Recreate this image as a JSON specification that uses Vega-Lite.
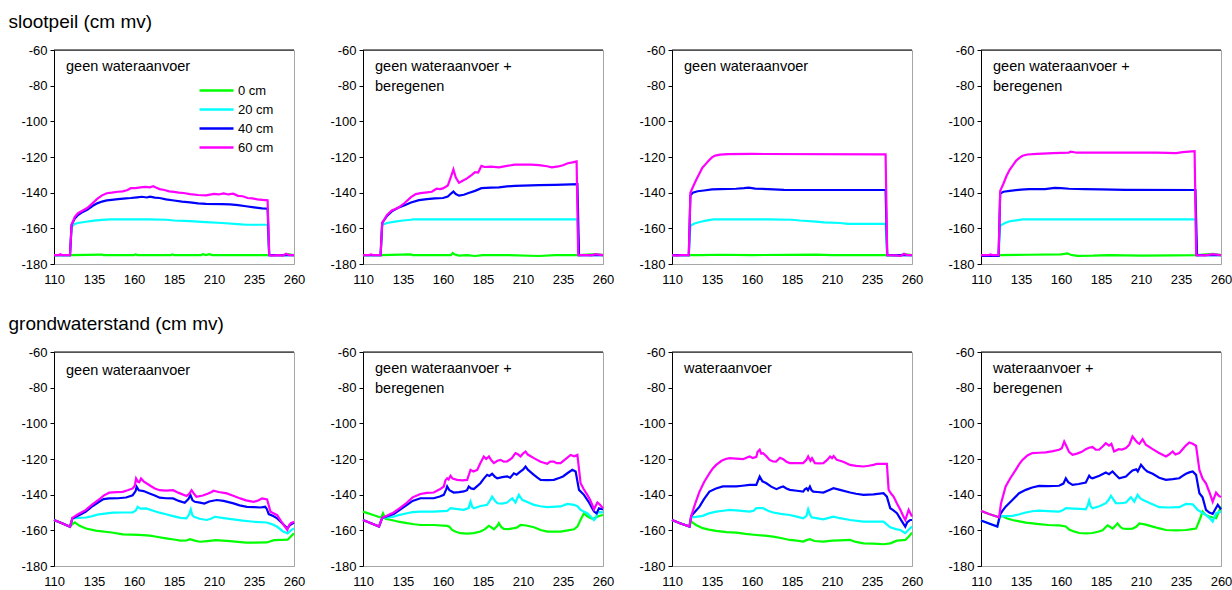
{
"$schema":"https://vega.github.io/schema/vega-lite/v6.json",
"padding":{"left":8,"top":12,"right":0,"bottom":4},
"background":"white",
"config":{
 "font":"Liberation Sans",
 "view":{"stroke":"#a6a6a6","strokeWidth":1},
 "axis":{"grid":false,"title":null,"labelFont":"Liberation Sans","labelFontSize":13,"labelColor":"#000","labelOverlap":false,"tickCount":20,"labelExpr":"'' + datum.value"},
 "axisX":{"ticks":false,"domainColor":"#a6a6a6","labelPadding":9,"labelFlush":false},
 "axisY":{"domainColor":"#000","tickColor":"#000","tickSize":4,"labelPadding":3},
 "title":{"font":"Liberation Sans","fontSize":19,"fontWeight":"normal","color":"#000","anchor":"start","dx":-12,"offset":12},
 "legend":{"labelFont":"Liberation Sans"}
},
"datasets":{
"teksten":[
{"pnl":1,"tekst":"geen wateraanvoer"},
{"pnl":2,"tekst":"geen wateraanvoer +\nberegenen"},
{"pnl":3,"tekst":"geen wateraanvoer"},
{"pnl":4,"tekst":"geen wateraanvoer +\nberegenen"},
{"pnl":5,"tekst":"geen wateraanvoer"},
{"pnl":6,"tekst":"geen wateraanvoer +\nberegenen"},
{"pnl":7,"tekst":"wateraanvoer"},
{"pnl":8,"tekst":"wateraanvoer +\nberegenen"}
],
"reeksen":[
{"pnl":1,"reeks":"0 cm","dag":110,"cm":-175},{"pnl":1,"reeks":"0 cm","dag":121,"cm":-175},{"pnl":1,"reeks":"0 cm","dag":140,"cm":-174.7},{"pnl":1,"reeks":"0 cm","dag":141,"cm":-175},{"pnl":1,"reeks":"0 cm","dag":160,"cm":-175},{"pnl":1,"reeks":"0 cm","dag":161,"cm":-174.6},{"pnl":1,"reeks":"0 cm","dag":162,"cm":-175},{"pnl":1,"reeks":"0 cm","dag":183,"cm":-175},{"pnl":1,"reeks":"0 cm","dag":184,"cm":-174.6},{"pnl":1,"reeks":"0 cm","dag":185,"cm":-175},{"pnl":1,"reeks":"0 cm","dag":202,"cm":-175},{"pnl":1,"reeks":"0 cm","dag":203,"cm":-174.5},{"pnl":1,"reeks":"0 cm","dag":205,"cm":-175},{"pnl":1,"reeks":"0 cm","dag":207,"cm":-174.5},{"pnl":1,"reeks":"0 cm","dag":209,"cm":-175},{"pnl":1,"reeks":"0 cm","dag":245,"cm":-175},{"pnl":1,"reeks":"0 cm","dag":255,"cm":-175},{"pnl":1,"reeks":"0 cm","dag":256,"cm":-174.5},{"pnl":1,"reeks":"0 cm","dag":260,"cm":-175},
{"pnl":1,"reeks":"20 cm","dag":110,"cm":-175},{"pnl":1,"reeks":"20 cm","dag":120,"cm":-175},{"pnl":1,"reeks":"20 cm","dag":121,"cm":-159},{"pnl":1,"reeks":"20 cm","dag":123,"cm":-157.5},{"pnl":1,"reeks":"20 cm","dag":125,"cm":-157},{"pnl":1,"reeks":"20 cm","dag":130,"cm":-156.3},{"pnl":1,"reeks":"20 cm","dag":135,"cm":-155.7},{"pnl":1,"reeks":"20 cm","dag":140,"cm":-155.3},{"pnl":1,"reeks":"20 cm","dag":145,"cm":-155},{"pnl":1,"reeks":"20 cm","dag":170,"cm":-155},{"pnl":1,"reeks":"20 cm","dag":180,"cm":-155.2},{"pnl":1,"reeks":"20 cm","dag":185,"cm":-155.6},{"pnl":1,"reeks":"20 cm","dag":195,"cm":-156},{"pnl":1,"reeks":"20 cm","dag":205,"cm":-156.5},{"pnl":1,"reeks":"20 cm","dag":215,"cm":-157},{"pnl":1,"reeks":"20 cm","dag":225,"cm":-157.6},{"pnl":1,"reeks":"20 cm","dag":230,"cm":-158},{"pnl":1,"reeks":"20 cm","dag":243.5,"cm":-158},{"pnl":1,"reeks":"20 cm","dag":244.5,"cm":-175},{"pnl":1,"reeks":"20 cm","dag":260,"cm":-175},
{"pnl":1,"reeks":"40 cm","dag":110,"cm":-175},{"pnl":1,"reeks":"40 cm","dag":120,"cm":-175},{"pnl":1,"reeks":"40 cm","dag":121,"cm":-158},{"pnl":1,"reeks":"40 cm","dag":123,"cm":-154.5},{"pnl":1,"reeks":"40 cm","dag":125,"cm":-152.5},{"pnl":1,"reeks":"40 cm","dag":128,"cm":-150.8},{"pnl":1,"reeks":"40 cm","dag":131,"cm":-149.5},{"pnl":1,"reeks":"40 cm","dag":134,"cm":-147.5},{"pnl":1,"reeks":"40 cm","dag":137,"cm":-146},{"pnl":1,"reeks":"40 cm","dag":140,"cm":-145},{"pnl":1,"reeks":"40 cm","dag":143,"cm":-144.3},{"pnl":1,"reeks":"40 cm","dag":146,"cm":-144},{"pnl":1,"reeks":"40 cm","dag":150,"cm":-143.6},{"pnl":1,"reeks":"40 cm","dag":155,"cm":-143.2},{"pnl":1,"reeks":"40 cm","dag":158,"cm":-143},{"pnl":1,"reeks":"40 cm","dag":162,"cm":-142.6},{"pnl":1,"reeks":"40 cm","dag":165,"cm":-142.3},{"pnl":1,"reeks":"40 cm","dag":168,"cm":-142.7},{"pnl":1,"reeks":"40 cm","dag":170,"cm":-142.2},{"pnl":1,"reeks":"40 cm","dag":173,"cm":-142.8},{"pnl":1,"reeks":"40 cm","dag":176,"cm":-143},{"pnl":1,"reeks":"40 cm","dag":180,"cm":-143.8},{"pnl":1,"reeks":"40 cm","dag":185,"cm":-144.4},{"pnl":1,"reeks":"40 cm","dag":190,"cm":-145},{"pnl":1,"reeks":"40 cm","dag":195,"cm":-145.4},{"pnl":1,"reeks":"40 cm","dag":200,"cm":-146},{"pnl":1,"reeks":"40 cm","dag":205,"cm":-146.3},{"pnl":1,"reeks":"40 cm","dag":215,"cm":-146.4},{"pnl":1,"reeks":"40 cm","dag":220,"cm":-146.6},{"pnl":1,"reeks":"40 cm","dag":225,"cm":-147},{"pnl":1,"reeks":"40 cm","dag":230,"cm":-147.6},{"pnl":1,"reeks":"40 cm","dag":235,"cm":-148.2},{"pnl":1,"reeks":"40 cm","dag":240,"cm":-148.8},{"pnl":1,"reeks":"40 cm","dag":243.5,"cm":-149},{"pnl":1,"reeks":"40 cm","dag":244.5,"cm":-175},{"pnl":1,"reeks":"40 cm","dag":260,"cm":-175},
{"pnl":1,"reeks":"60 cm","dag":110,"cm":-175},{"pnl":1,"reeks":"60 cm","dag":113,"cm":-175},{"pnl":1,"reeks":"60 cm","dag":114,"cm":-174.5},{"pnl":1,"reeks":"60 cm","dag":115,"cm":-175},{"pnl":1,"reeks":"60 cm","dag":120,"cm":-175},{"pnl":1,"reeks":"60 cm","dag":121,"cm":-158},{"pnl":1,"reeks":"60 cm","dag":123,"cm":-153.5},{"pnl":1,"reeks":"60 cm","dag":125,"cm":-151.5},{"pnl":1,"reeks":"60 cm","dag":128,"cm":-150},{"pnl":1,"reeks":"60 cm","dag":131,"cm":-148.5},{"pnl":1,"reeks":"60 cm","dag":134,"cm":-146},{"pnl":1,"reeks":"60 cm","dag":137,"cm":-143.5},{"pnl":1,"reeks":"60 cm","dag":140,"cm":-141.5},{"pnl":1,"reeks":"60 cm","dag":143,"cm":-140.3},{"pnl":1,"reeks":"60 cm","dag":146,"cm":-140},{"pnl":1,"reeks":"60 cm","dag":150,"cm":-139.5},{"pnl":1,"reeks":"60 cm","dag":153,"cm":-139.3},{"pnl":1,"reeks":"60 cm","dag":156,"cm":-138.5},{"pnl":1,"reeks":"60 cm","dag":158,"cm":-137.5},{"pnl":1,"reeks":"60 cm","dag":161,"cm":-137.4},{"pnl":1,"reeks":"60 cm","dag":164,"cm":-137},{"pnl":1,"reeks":"60 cm","dag":167,"cm":-136.8},{"pnl":1,"reeks":"60 cm","dag":170,"cm":-137},{"pnl":1,"reeks":"60 cm","dag":172,"cm":-136.4},{"pnl":1,"reeks":"60 cm","dag":174,"cm":-137.2},{"pnl":1,"reeks":"60 cm","dag":176,"cm":-138},{"pnl":1,"reeks":"60 cm","dag":179,"cm":-138.5},{"pnl":1,"reeks":"60 cm","dag":182,"cm":-139.3},{"pnl":1,"reeks":"60 cm","dag":185,"cm":-139.6},{"pnl":1,"reeks":"60 cm","dag":188,"cm":-140},{"pnl":1,"reeks":"60 cm","dag":191,"cm":-140.2},{"pnl":1,"reeks":"60 cm","dag":195,"cm":-140.8},{"pnl":1,"reeks":"60 cm","dag":200,"cm":-141.3},{"pnl":1,"reeks":"60 cm","dag":205,"cm":-141.5},{"pnl":1,"reeks":"60 cm","dag":210,"cm":-140.7},{"pnl":1,"reeks":"60 cm","dag":213,"cm":-141},{"pnl":1,"reeks":"60 cm","dag":216,"cm":-140.4},{"pnl":1,"reeks":"60 cm","dag":219,"cm":-141},{"pnl":1,"reeks":"60 cm","dag":222,"cm":-140.6},{"pnl":1,"reeks":"60 cm","dag":225,"cm":-141.8},{"pnl":1,"reeks":"60 cm","dag":228,"cm":-142},{"pnl":1,"reeks":"60 cm","dag":231,"cm":-143},{"pnl":1,"reeks":"60 cm","dag":234,"cm":-143.2},{"pnl":1,"reeks":"60 cm","dag":237,"cm":-143.8},{"pnl":1,"reeks":"60 cm","dag":240,"cm":-144},{"pnl":1,"reeks":"60 cm","dag":243.5,"cm":-144.3},{"pnl":1,"reeks":"60 cm","dag":244.5,"cm":-175},{"pnl":1,"reeks":"60 cm","dag":246,"cm":-175.3},{"pnl":1,"reeks":"60 cm","dag":250,"cm":-175},{"pnl":1,"reeks":"60 cm","dag":253,"cm":-175.3},{"pnl":1,"reeks":"60 cm","dag":255,"cm":-174.3},{"pnl":1,"reeks":"60 cm","dag":257,"cm":-175},{"pnl":1,"reeks":"60 cm","dag":260,"cm":-175},

{"pnl":2,"reeks":"0 cm","dag":110,"cm":-175},{"pnl":2,"reeks":"0 cm","dag":121,"cm":-175},{"pnl":2,"reeks":"0 cm","dag":140,"cm":-174.6},{"pnl":2,"reeks":"0 cm","dag":141,"cm":-175},{"pnl":2,"reeks":"0 cm","dag":165,"cm":-175},{"pnl":2,"reeks":"0 cm","dag":166,"cm":-173.8},{"pnl":2,"reeks":"0 cm","dag":167,"cm":-174.5},{"pnl":2,"reeks":"0 cm","dag":170,"cm":-175.3},{"pnl":2,"reeks":"0 cm","dag":175,"cm":-175},{"pnl":2,"reeks":"0 cm","dag":180,"cm":-175.5},{"pnl":2,"reeks":"0 cm","dag":185,"cm":-175},{"pnl":2,"reeks":"0 cm","dag":200,"cm":-175},{"pnl":2,"reeks":"0 cm","dag":220,"cm":-175.5},{"pnl":2,"reeks":"0 cm","dag":230,"cm":-175},{"pnl":2,"reeks":"0 cm","dag":245,"cm":-175},{"pnl":2,"reeks":"0 cm","dag":256,"cm":-174.5},{"pnl":2,"reeks":"0 cm","dag":260,"cm":-175},
{"pnl":2,"reeks":"20 cm","dag":110,"cm":-175},{"pnl":2,"reeks":"20 cm","dag":121,"cm":-175},{"pnl":2,"reeks":"20 cm","dag":122,"cm":-158},{"pnl":2,"reeks":"20 cm","dag":125,"cm":-157},{"pnl":2,"reeks":"20 cm","dag":130,"cm":-156.2},{"pnl":2,"reeks":"20 cm","dag":135,"cm":-155.6},{"pnl":2,"reeks":"20 cm","dag":140,"cm":-155.2},{"pnl":2,"reeks":"20 cm","dag":141,"cm":-155},{"pnl":2,"reeks":"20 cm","dag":244,"cm":-155},{"pnl":2,"reeks":"20 cm","dag":245,"cm":-175},{"pnl":2,"reeks":"20 cm","dag":260,"cm":-175},
{"pnl":2,"reeks":"40 cm","dag":110,"cm":-175},{"pnl":2,"reeks":"40 cm","dag":121,"cm":-175},{"pnl":2,"reeks":"40 cm","dag":122,"cm":-157},{"pnl":2,"reeks":"40 cm","dag":125,"cm":-153},{"pnl":2,"reeks":"40 cm","dag":128,"cm":-150.5},{"pnl":2,"reeks":"40 cm","dag":132,"cm":-148.5},{"pnl":2,"reeks":"40 cm","dag":136,"cm":-147},{"pnl":2,"reeks":"40 cm","dag":140,"cm":-145.5},{"pnl":2,"reeks":"40 cm","dag":145,"cm":-144.2},{"pnl":2,"reeks":"40 cm","dag":150,"cm":-143.6},{"pnl":2,"reeks":"40 cm","dag":155,"cm":-143.2},{"pnl":2,"reeks":"40 cm","dag":160,"cm":-143},{"pnl":2,"reeks":"40 cm","dag":163,"cm":-142.2},{"pnl":2,"reeks":"40 cm","dag":165,"cm":-140.5},{"pnl":2,"reeks":"40 cm","dag":166.5,"cm":-139.4},{"pnl":2,"reeks":"40 cm","dag":168,"cm":-140.8},{"pnl":2,"reeks":"40 cm","dag":170,"cm":-141.7},{"pnl":2,"reeks":"40 cm","dag":173,"cm":-141.2},{"pnl":2,"reeks":"40 cm","dag":176,"cm":-140.2},{"pnl":2,"reeks":"40 cm","dag":180,"cm":-139},{"pnl":2,"reeks":"40 cm","dag":184,"cm":-137.5},{"pnl":2,"reeks":"40 cm","dag":190,"cm":-137.2},{"pnl":2,"reeks":"40 cm","dag":195,"cm":-137},{"pnl":2,"reeks":"40 cm","dag":200,"cm":-136.5},{"pnl":2,"reeks":"40 cm","dag":205,"cm":-136.2},{"pnl":2,"reeks":"40 cm","dag":210,"cm":-136},{"pnl":2,"reeks":"40 cm","dag":220,"cm":-135.8},{"pnl":2,"reeks":"40 cm","dag":230,"cm":-135.6},{"pnl":2,"reeks":"40 cm","dag":240,"cm":-135.3},{"pnl":2,"reeks":"40 cm","dag":244,"cm":-135.2},{"pnl":2,"reeks":"40 cm","dag":245,"cm":-175},{"pnl":2,"reeks":"40 cm","dag":260,"cm":-175},
{"pnl":2,"reeks":"60 cm","dag":110,"cm":-175},{"pnl":2,"reeks":"60 cm","dag":114,"cm":-175},{"pnl":2,"reeks":"60 cm","dag":115,"cm":-174.6},{"pnl":2,"reeks":"60 cm","dag":116,"cm":-175},{"pnl":2,"reeks":"60 cm","dag":121,"cm":-175},{"pnl":2,"reeks":"60 cm","dag":122,"cm":-157},{"pnl":2,"reeks":"60 cm","dag":125,"cm":-152.5},{"pnl":2,"reeks":"60 cm","dag":128,"cm":-150},{"pnl":2,"reeks":"60 cm","dag":132,"cm":-148.5},{"pnl":2,"reeks":"60 cm","dag":136,"cm":-145.8},{"pnl":2,"reeks":"60 cm","dag":140,"cm":-142.5},{"pnl":2,"reeks":"60 cm","dag":143,"cm":-140.8},{"pnl":2,"reeks":"60 cm","dag":146,"cm":-140.3},{"pnl":2,"reeks":"60 cm","dag":150,"cm":-139.8},{"pnl":2,"reeks":"60 cm","dag":153,"cm":-139.5},{"pnl":2,"reeks":"60 cm","dag":156,"cm":-137.8},{"pnl":2,"reeks":"60 cm","dag":158,"cm":-138},{"pnl":2,"reeks":"60 cm","dag":160,"cm":-137.6},{"pnl":2,"reeks":"60 cm","dag":163,"cm":-136},{"pnl":2,"reeks":"60 cm","dag":165,"cm":-131},{"pnl":2,"reeks":"60 cm","dag":166.5,"cm":-127},{"pnl":2,"reeks":"60 cm","dag":168,"cm":-131.5},{"pnl":2,"reeks":"60 cm","dag":170,"cm":-134.5},{"pnl":2,"reeks":"60 cm","dag":172,"cm":-133.5},{"pnl":2,"reeks":"60 cm","dag":175,"cm":-132},{"pnl":2,"reeks":"60 cm","dag":178,"cm":-130},{"pnl":2,"reeks":"60 cm","dag":180,"cm":-128.5},{"pnl":2,"reeks":"60 cm","dag":182,"cm":-128.7},{"pnl":2,"reeks":"60 cm","dag":184,"cm":-125},{"pnl":2,"reeks":"60 cm","dag":186,"cm":-125.6},{"pnl":2,"reeks":"60 cm","dag":190,"cm":-125.4},{"pnl":2,"reeks":"60 cm","dag":195,"cm":-125.8},{"pnl":2,"reeks":"60 cm","dag":200,"cm":-125},{"pnl":2,"reeks":"60 cm","dag":205,"cm":-124.3},{"pnl":2,"reeks":"60 cm","dag":210,"cm":-124.2},{"pnl":2,"reeks":"60 cm","dag":215,"cm":-124.3},{"pnl":2,"reeks":"60 cm","dag":220,"cm":-124.6},{"pnl":2,"reeks":"60 cm","dag":225,"cm":-125.2},{"pnl":2,"reeks":"60 cm","dag":228,"cm":-125.8},{"pnl":2,"reeks":"60 cm","dag":232,"cm":-125.3},{"pnl":2,"reeks":"60 cm","dag":235,"cm":-124.6},{"pnl":2,"reeks":"60 cm","dag":238,"cm":-123.5},{"pnl":2,"reeks":"60 cm","dag":241,"cm":-123},{"pnl":2,"reeks":"60 cm","dag":243.5,"cm":-122.5},{"pnl":2,"reeks":"60 cm","dag":244.5,"cm":-175},{"pnl":2,"reeks":"60 cm","dag":250,"cm":-175},{"pnl":2,"reeks":"60 cm","dag":253,"cm":-175.2},{"pnl":2,"reeks":"60 cm","dag":255,"cm":-174.5},{"pnl":2,"reeks":"60 cm","dag":260,"cm":-175},

{"pnl":3,"reeks":"0 cm","dag":110,"cm":-175},{"pnl":3,"reeks":"0 cm","dag":128,"cm":-175},{"pnl":3,"reeks":"0 cm","dag":140,"cm":-174.8},{"pnl":3,"reeks":"0 cm","dag":160,"cm":-175},{"pnl":3,"reeks":"0 cm","dag":200,"cm":-174.7},{"pnl":3,"reeks":"0 cm","dag":210,"cm":-175},{"pnl":3,"reeks":"0 cm","dag":245,"cm":-175},{"pnl":3,"reeks":"0 cm","dag":252,"cm":-175.3},{"pnl":3,"reeks":"0 cm","dag":255,"cm":-174.5},{"pnl":3,"reeks":"0 cm","dag":260,"cm":-175},
{"pnl":3,"reeks":"20 cm","dag":110,"cm":-175},{"pnl":3,"reeks":"20 cm","dag":120.5,"cm":-175},{"pnl":3,"reeks":"20 cm","dag":121.5,"cm":-158.5},{"pnl":3,"reeks":"20 cm","dag":124,"cm":-157.3},{"pnl":3,"reeks":"20 cm","dag":128,"cm":-156.3},{"pnl":3,"reeks":"20 cm","dag":132,"cm":-155.5},{"pnl":3,"reeks":"20 cm","dag":136,"cm":-155},{"pnl":3,"reeks":"20 cm","dag":170,"cm":-155},{"pnl":3,"reeks":"20 cm","dag":185,"cm":-155.2},{"pnl":3,"reeks":"20 cm","dag":190,"cm":-155.6},{"pnl":3,"reeks":"20 cm","dag":200,"cm":-156.2},{"pnl":3,"reeks":"20 cm","dag":205,"cm":-156.7},{"pnl":3,"reeks":"20 cm","dag":215,"cm":-157},{"pnl":3,"reeks":"20 cm","dag":220,"cm":-157.5},{"pnl":3,"reeks":"20 cm","dag":243.5,"cm":-157.5},{"pnl":3,"reeks":"20 cm","dag":244.5,"cm":-175},{"pnl":3,"reeks":"20 cm","dag":260,"cm":-175},
{"pnl":3,"reeks":"40 cm","dag":110,"cm":-175},{"pnl":3,"reeks":"40 cm","dag":120.5,"cm":-175},{"pnl":3,"reeks":"40 cm","dag":121.5,"cm":-141.5},{"pnl":3,"reeks":"40 cm","dag":123,"cm":-140},{"pnl":3,"reeks":"40 cm","dag":126,"cm":-139.2},{"pnl":3,"reeks":"40 cm","dag":130,"cm":-138.8},{"pnl":3,"reeks":"40 cm","dag":135,"cm":-138.2},{"pnl":3,"reeks":"40 cm","dag":140,"cm":-138},{"pnl":3,"reeks":"40 cm","dag":150,"cm":-137.8},{"pnl":3,"reeks":"40 cm","dag":155,"cm":-137.5},{"pnl":3,"reeks":"40 cm","dag":158,"cm":-137.2},{"pnl":3,"reeks":"40 cm","dag":162,"cm":-137.7},{"pnl":3,"reeks":"40 cm","dag":170,"cm":-138},{"pnl":3,"reeks":"40 cm","dag":180,"cm":-138.4},{"pnl":3,"reeks":"40 cm","dag":200,"cm":-138.5},{"pnl":3,"reeks":"40 cm","dag":243.5,"cm":-138.5},{"pnl":3,"reeks":"40 cm","dag":244.5,"cm":-175},{"pnl":3,"reeks":"40 cm","dag":260,"cm":-175},
{"pnl":3,"reeks":"60 cm","dag":110,"cm":-175},{"pnl":3,"reeks":"60 cm","dag":113,"cm":-175.3},{"pnl":3,"reeks":"60 cm","dag":116,"cm":-175},{"pnl":3,"reeks":"60 cm","dag":120.5,"cm":-175},{"pnl":3,"reeks":"60 cm","dag":121.5,"cm":-140},{"pnl":3,"reeks":"60 cm","dag":123,"cm":-137},{"pnl":3,"reeks":"60 cm","dag":125,"cm":-133},{"pnl":3,"reeks":"60 cm","dag":127,"cm":-129.5},{"pnl":3,"reeks":"60 cm","dag":129,"cm":-126},{"pnl":3,"reeks":"60 cm","dag":131,"cm":-124},{"pnl":3,"reeks":"60 cm","dag":133,"cm":-122},{"pnl":3,"reeks":"60 cm","dag":135,"cm":-120.2},{"pnl":3,"reeks":"60 cm","dag":137,"cm":-119.2},{"pnl":3,"reeks":"60 cm","dag":140,"cm":-118.7},{"pnl":3,"reeks":"60 cm","dag":145,"cm":-118.4},{"pnl":3,"reeks":"60 cm","dag":160,"cm":-118.3},{"pnl":3,"reeks":"60 cm","dag":243.5,"cm":-118.5},{"pnl":3,"reeks":"60 cm","dag":244.5,"cm":-175},{"pnl":3,"reeks":"60 cm","dag":250,"cm":-175.2},{"pnl":3,"reeks":"60 cm","dag":253,"cm":-175.5},{"pnl":3,"reeks":"60 cm","dag":255,"cm":-174.3},{"pnl":3,"reeks":"60 cm","dag":257,"cm":-175},{"pnl":3,"reeks":"60 cm","dag":260,"cm":-175},

{"pnl":4,"reeks":"0 cm","dag":110,"cm":-175},{"pnl":4,"reeks":"0 cm","dag":121,"cm":-175},{"pnl":4,"reeks":"0 cm","dag":140,"cm":-174.8},{"pnl":4,"reeks":"0 cm","dag":160,"cm":-174.6},{"pnl":4,"reeks":"0 cm","dag":164,"cm":-174},{"pnl":4,"reeks":"0 cm","dag":166,"cm":-174.8},{"pnl":4,"reeks":"0 cm","dag":170,"cm":-175.4},{"pnl":4,"reeks":"0 cm","dag":180,"cm":-175.3},{"pnl":4,"reeks":"0 cm","dag":190,"cm":-175},{"pnl":4,"reeks":"0 cm","dag":210,"cm":-175.3},{"pnl":4,"reeks":"0 cm","dag":230,"cm":-175.2},{"pnl":4,"reeks":"0 cm","dag":245,"cm":-175},{"pnl":4,"reeks":"0 cm","dag":255,"cm":-174.3},{"pnl":4,"reeks":"0 cm","dag":260,"cm":-175},
{"pnl":4,"reeks":"20 cm","dag":110,"cm":-175},{"pnl":4,"reeks":"20 cm","dag":121,"cm":-175},{"pnl":4,"reeks":"20 cm","dag":122,"cm":-158.5},{"pnl":4,"reeks":"20 cm","dag":125,"cm":-157},{"pnl":4,"reeks":"20 cm","dag":128,"cm":-156},{"pnl":4,"reeks":"20 cm","dag":132,"cm":-155.5},{"pnl":4,"reeks":"20 cm","dag":136,"cm":-155},{"pnl":4,"reeks":"20 cm","dag":244,"cm":-155},{"pnl":4,"reeks":"20 cm","dag":245,"cm":-175},{"pnl":4,"reeks":"20 cm","dag":260,"cm":-175},
{"pnl":4,"reeks":"40 cm","dag":110,"cm":-175.5},{"pnl":4,"reeks":"40 cm","dag":121,"cm":-175.5},{"pnl":4,"reeks":"40 cm","dag":122,"cm":-140.5},{"pnl":4,"reeks":"40 cm","dag":124,"cm":-139.5},{"pnl":4,"reeks":"40 cm","dag":128,"cm":-139},{"pnl":4,"reeks":"40 cm","dag":135,"cm":-138.3},{"pnl":4,"reeks":"40 cm","dag":140,"cm":-138},{"pnl":4,"reeks":"40 cm","dag":150,"cm":-138},{"pnl":4,"reeks":"40 cm","dag":156,"cm":-137.3},{"pnl":4,"reeks":"40 cm","dag":160,"cm":-137.5},{"pnl":4,"reeks":"40 cm","dag":165,"cm":-137.8},{"pnl":4,"reeks":"40 cm","dag":175,"cm":-138},{"pnl":4,"reeks":"40 cm","dag":185,"cm":-138.2},{"pnl":4,"reeks":"40 cm","dag":200,"cm":-138.4},{"pnl":4,"reeks":"40 cm","dag":244,"cm":-138.5},{"pnl":4,"reeks":"40 cm","dag":245,"cm":-175},{"pnl":4,"reeks":"40 cm","dag":260,"cm":-175},
{"pnl":4,"reeks":"60 cm","dag":110,"cm":-175},{"pnl":4,"reeks":"60 cm","dag":115,"cm":-175},{"pnl":4,"reeks":"60 cm","dag":116,"cm":-174.6},{"pnl":4,"reeks":"60 cm","dag":117,"cm":-175},{"pnl":4,"reeks":"60 cm","dag":121,"cm":-175},{"pnl":4,"reeks":"60 cm","dag":122,"cm":-139},{"pnl":4,"reeks":"60 cm","dag":124,"cm":-135},{"pnl":4,"reeks":"60 cm","dag":126,"cm":-130.5},{"pnl":4,"reeks":"60 cm","dag":128,"cm":-127},{"pnl":4,"reeks":"60 cm","dag":130,"cm":-124.6},{"pnl":4,"reeks":"60 cm","dag":132,"cm":-122},{"pnl":4,"reeks":"60 cm","dag":134,"cm":-120.5},{"pnl":4,"reeks":"60 cm","dag":136,"cm":-119.3},{"pnl":4,"reeks":"60 cm","dag":139,"cm":-118.6},{"pnl":4,"reeks":"60 cm","dag":145,"cm":-118.2},{"pnl":4,"reeks":"60 cm","dag":155,"cm":-117.8},{"pnl":4,"reeks":"60 cm","dag":165,"cm":-117.5},{"pnl":4,"reeks":"60 cm","dag":166,"cm":-117},{"pnl":4,"reeks":"60 cm","dag":170,"cm":-117.6},{"pnl":4,"reeks":"60 cm","dag":200,"cm":-117.5},{"pnl":4,"reeks":"60 cm","dag":220,"cm":-117.6},{"pnl":4,"reeks":"60 cm","dag":232,"cm":-117.8},{"pnl":4,"reeks":"60 cm","dag":236,"cm":-117.3},{"pnl":4,"reeks":"60 cm","dag":240,"cm":-117},{"pnl":4,"reeks":"60 cm","dag":243.5,"cm":-116.7},{"pnl":4,"reeks":"60 cm","dag":244.5,"cm":-175},{"pnl":4,"reeks":"60 cm","dag":250,"cm":-175.2},{"pnl":4,"reeks":"60 cm","dag":255,"cm":-174.5},{"pnl":4,"reeks":"60 cm","dag":260,"cm":-175},

{"pnl":5,"reeks":"0 cm","dag":110,"cm":-154.2},{"pnl":5,"reeks":"0 cm","dag":115,"cm":-156},{"pnl":5,"reeks":"0 cm","dag":120,"cm":-158},{"pnl":5,"reeks":"0 cm","dag":121.5,"cm":-156.5},{"pnl":5,"reeks":"0 cm","dag":123,"cm":-155.5},{"pnl":5,"reeks":"0 cm","dag":126,"cm":-157.5},{"pnl":5,"reeks":"0 cm","dag":130,"cm":-159},{"pnl":5,"reeks":"0 cm","dag":136,"cm":-160.2},{"pnl":5,"reeks":"0 cm","dag":146,"cm":-161.2},{"pnl":5,"reeks":"0 cm","dag":153,"cm":-162.3},{"pnl":5,"reeks":"0 cm","dag":163,"cm":-162.6},{"pnl":5,"reeks":"0 cm","dag":170,"cm":-163},{"pnl":5,"reeks":"0 cm","dag":174,"cm":-163.6},{"pnl":5,"reeks":"0 cm","dag":180,"cm":-164.5},{"pnl":5,"reeks":"0 cm","dag":186,"cm":-165.3},{"pnl":5,"reeks":"0 cm","dag":189,"cm":-165.8},{"pnl":5,"reeks":"0 cm","dag":193,"cm":-165.6},{"pnl":5,"reeks":"0 cm","dag":195,"cm":-165},{"pnl":5,"reeks":"0 cm","dag":198,"cm":-165.8},{"pnl":5,"reeks":"0 cm","dag":201,"cm":-166.4},{"pnl":5,"reeks":"0 cm","dag":206,"cm":-166},{"pnl":5,"reeks":"0 cm","dag":211,"cm":-165.5},{"pnl":5,"reeks":"0 cm","dag":220,"cm":-166},{"pnl":5,"reeks":"0 cm","dag":230,"cm":-166.9},{"pnl":5,"reeks":"0 cm","dag":243,"cm":-166.8},{"pnl":5,"reeks":"0 cm","dag":247.5,"cm":-165.5},{"pnl":5,"reeks":"0 cm","dag":252,"cm":-165.4},{"pnl":5,"reeks":"0 cm","dag":256,"cm":-165.3},{"pnl":5,"reeks":"0 cm","dag":258,"cm":-163.5},{"pnl":5,"reeks":"0 cm","dag":260,"cm":-161.7},
{"pnl":5,"reeks":"20 cm","dag":110,"cm":-154.2},{"pnl":5,"reeks":"20 cm","dag":115,"cm":-156},{"pnl":5,"reeks":"20 cm","dag":120,"cm":-158},{"pnl":5,"reeks":"20 cm","dag":121.5,"cm":-153.3},{"pnl":5,"reeks":"20 cm","dag":125,"cm":-153},{"pnl":5,"reeks":"20 cm","dag":130,"cm":-152.8},{"pnl":5,"reeks":"20 cm","dag":134,"cm":-152},{"pnl":5,"reeks":"20 cm","dag":138,"cm":-151},{"pnl":5,"reeks":"20 cm","dag":143,"cm":-150.5},{"pnl":5,"reeks":"20 cm","dag":147,"cm":-150.1},{"pnl":5,"reeks":"20 cm","dag":153,"cm":-150},{"pnl":5,"reeks":"20 cm","dag":159,"cm":-150},{"pnl":5,"reeks":"20 cm","dag":161,"cm":-149},{"pnl":5,"reeks":"20 cm","dag":162.3,"cm":-146.8},{"pnl":5,"reeks":"20 cm","dag":164,"cm":-147.8},{"pnl":5,"reeks":"20 cm","dag":167.6,"cm":-147.7},{"pnl":5,"reeks":"20 cm","dag":172,"cm":-149},{"pnl":5,"reeks":"20 cm","dag":176,"cm":-150.1},{"pnl":5,"reeks":"20 cm","dag":180,"cm":-151},{"pnl":5,"reeks":"20 cm","dag":184.4,"cm":-152},{"pnl":5,"reeks":"20 cm","dag":189,"cm":-153},{"pnl":5,"reeks":"20 cm","dag":192.8,"cm":-153.3},{"pnl":5,"reeks":"20 cm","dag":194.5,"cm":-151},{"pnl":5,"reeks":"20 cm","dag":195.5,"cm":-148.3},{"pnl":5,"reeks":"20 cm","dag":196.5,"cm":-151.5},{"pnl":5,"reeks":"20 cm","dag":197.5,"cm":-152.4},{"pnl":5,"reeks":"20 cm","dag":201,"cm":-153.5},{"pnl":5,"reeks":"20 cm","dag":205.4,"cm":-154.2},{"pnl":5,"reeks":"20 cm","dag":208,"cm":-153.5},{"pnl":5,"reeks":"20 cm","dag":210.6,"cm":-152.4},{"pnl":5,"reeks":"20 cm","dag":215,"cm":-153},{"pnl":5,"reeks":"20 cm","dag":222,"cm":-153.9},{"pnl":5,"reeks":"20 cm","dag":228,"cm":-154.6},{"pnl":5,"reeks":"20 cm","dag":234.8,"cm":-155.2},{"pnl":5,"reeks":"20 cm","dag":243,"cm":-155.6},{"pnl":5,"reeks":"20 cm","dag":246,"cm":-156.5},{"pnl":5,"reeks":"20 cm","dag":249.5,"cm":-158},{"pnl":5,"reeks":"20 cm","dag":253,"cm":-160.5},{"pnl":5,"reeks":"20 cm","dag":256,"cm":-161.7},{"pnl":5,"reeks":"20 cm","dag":258,"cm":-160},{"pnl":5,"reeks":"20 cm","dag":260,"cm":-158.9},
{"pnl":5,"reeks":"40 cm","dag":110,"cm":-154.2},{"pnl":5,"reeks":"40 cm","dag":115,"cm":-156},{"pnl":5,"reeks":"40 cm","dag":120,"cm":-158},{"pnl":5,"reeks":"40 cm","dag":121.5,"cm":-153.3},{"pnl":5,"reeks":"40 cm","dag":125,"cm":-151.8},{"pnl":5,"reeks":"40 cm","dag":129.7,"cm":-149.6},{"pnl":5,"reeks":"40 cm","dag":134,"cm":-146.5},{"pnl":5,"reeks":"40 cm","dag":138.2,"cm":-144},{"pnl":5,"reeks":"40 cm","dag":141,"cm":-142.5},{"pnl":5,"reeks":"40 cm","dag":144.5,"cm":-142.1},{"pnl":5,"reeks":"40 cm","dag":150,"cm":-142},{"pnl":5,"reeks":"40 cm","dag":155,"cm":-141.6},{"pnl":5,"reeks":"40 cm","dag":159.2,"cm":-140.3},{"pnl":5,"reeks":"40 cm","dag":161,"cm":-138},{"pnl":5,"reeks":"40 cm","dag":161.7,"cm":-135.6},{"pnl":5,"reeks":"40 cm","dag":163,"cm":-137.5},{"pnl":5,"reeks":"40 cm","dag":166,"cm":-138},{"pnl":5,"reeks":"40 cm","dag":169.7,"cm":-139.3},{"pnl":5,"reeks":"40 cm","dag":173,"cm":-140.5},{"pnl":5,"reeks":"40 cm","dag":176,"cm":-141.7},{"pnl":5,"reeks":"40 cm","dag":180,"cm":-142},{"pnl":5,"reeks":"40 cm","dag":184.4,"cm":-142.1},{"pnl":5,"reeks":"40 cm","dag":188,"cm":-143.5},{"pnl":5,"reeks":"40 cm","dag":191.7,"cm":-144.5},{"pnl":5,"reeks":"40 cm","dag":194,"cm":-142.5},{"pnl":5,"reeks":"40 cm","dag":195.3,"cm":-140.3},{"pnl":5,"reeks":"40 cm","dag":196.5,"cm":-143},{"pnl":5,"reeks":"40 cm","dag":198,"cm":-144},{"pnl":5,"reeks":"40 cm","dag":201.2,"cm":-144.5},{"pnl":5,"reeks":"40 cm","dag":204,"cm":-145},{"pnl":5,"reeks":"40 cm","dag":207,"cm":-143.8},{"pnl":5,"reeks":"40 cm","dag":211.7,"cm":-143},{"pnl":5,"reeks":"40 cm","dag":216,"cm":-143.5},{"pnl":5,"reeks":"40 cm","dag":222.2,"cm":-144.9},{"pnl":5,"reeks":"40 cm","dag":226,"cm":-146},{"pnl":5,"reeks":"40 cm","dag":230.6,"cm":-146.8},{"pnl":5,"reeks":"40 cm","dag":235,"cm":-147},{"pnl":5,"reeks":"40 cm","dag":239,"cm":-147.2},{"pnl":5,"reeks":"40 cm","dag":242,"cm":-146.8},{"pnl":5,"reeks":"40 cm","dag":243,"cm":-148},{"pnl":5,"reeks":"40 cm","dag":244.2,"cm":-150.9},{"pnl":5,"reeks":"40 cm","dag":247,"cm":-152},{"pnl":5,"reeks":"40 cm","dag":249.5,"cm":-153.3},{"pnl":5,"reeks":"40 cm","dag":252,"cm":-155.5},{"pnl":5,"reeks":"40 cm","dag":255.8,"cm":-158.9},{"pnl":5,"reeks":"40 cm","dag":257.5,"cm":-157},{"pnl":5,"reeks":"40 cm","dag":260,"cm":-155.7},
{"pnl":5,"reeks":"60 cm","dag":110,"cm":-154.2},{"pnl":5,"reeks":"60 cm","dag":115,"cm":-156},{"pnl":5,"reeks":"60 cm","dag":120,"cm":-158},{"pnl":5,"reeks":"60 cm","dag":121.5,"cm":-153},{"pnl":5,"reeks":"60 cm","dag":125,"cm":-151},{"pnl":5,"reeks":"60 cm","dag":129.7,"cm":-148.7},{"pnl":5,"reeks":"60 cm","dag":134,"cm":-145.5},{"pnl":5,"reeks":"60 cm","dag":138.2,"cm":-142.7},{"pnl":5,"reeks":"60 cm","dag":141,"cm":-140.5},{"pnl":5,"reeks":"60 cm","dag":144.5,"cm":-138.9},{"pnl":5,"reeks":"60 cm","dag":149,"cm":-138.6},{"pnl":5,"reeks":"60 cm","dag":152.9,"cm":-138.4},{"pnl":5,"reeks":"60 cm","dag":156,"cm":-137.5},{"pnl":5,"reeks":"60 cm","dag":159.2,"cm":-136.5},{"pnl":5,"reeks":"60 cm","dag":160.5,"cm":-135},{"pnl":5,"reeks":"60 cm","dag":161.3,"cm":-130.9},{"pnl":5,"reeks":"60 cm","dag":162.5,"cm":-132.8},{"pnl":5,"reeks":"60 cm","dag":163.3,"cm":-133},{"pnl":5,"reeks":"60 cm","dag":164.4,"cm":-130.9},{"pnl":5,"reeks":"60 cm","dag":166,"cm":-132.5},{"pnl":5,"reeks":"60 cm","dag":169.7,"cm":-134.7},{"pnl":5,"reeks":"60 cm","dag":173,"cm":-136.5},{"pnl":5,"reeks":"60 cm","dag":176,"cm":-137.5},{"pnl":5,"reeks":"60 cm","dag":180,"cm":-137.7},{"pnl":5,"reeks":"60 cm","dag":184.4,"cm":-137.5},{"pnl":5,"reeks":"60 cm","dag":188,"cm":-139},{"pnl":5,"reeks":"60 cm","dag":192.8,"cm":-140.8},{"pnl":5,"reeks":"60 cm","dag":194.5,"cm":-139.5},{"pnl":5,"reeks":"60 cm","dag":196,"cm":-137.5},{"pnl":5,"reeks":"60 cm","dag":197.5,"cm":-139.5},{"pnl":5,"reeks":"60 cm","dag":199,"cm":-141.2},{"pnl":5,"reeks":"60 cm","dag":203,"cm":-140.5},{"pnl":5,"reeks":"60 cm","dag":206,"cm":-139.5},{"pnl":5,"reeks":"60 cm","dag":208.5,"cm":-138.5},{"pnl":5,"reeks":"60 cm","dag":209.6,"cm":-137.8},{"pnl":5,"reeks":"60 cm","dag":213,"cm":-138.5},{"pnl":5,"reeks":"60 cm","dag":218,"cm":-139.3},{"pnl":5,"reeks":"60 cm","dag":222,"cm":-140.6},{"pnl":5,"reeks":"60 cm","dag":226.4,"cm":-142.1},{"pnl":5,"reeks":"60 cm","dag":230,"cm":-143.2},{"pnl":5,"reeks":"60 cm","dag":234.8,"cm":-144},{"pnl":5,"reeks":"60 cm","dag":237,"cm":-143.5},{"pnl":5,"reeks":"60 cm","dag":240,"cm":-142.1},{"pnl":5,"reeks":"60 cm","dag":243.2,"cm":-142.7},{"pnl":5,"reeks":"60 cm","dag":245.3,"cm":-149.6},{"pnl":5,"reeks":"60 cm","dag":249.5,"cm":-151.5},{"pnl":5,"reeks":"60 cm","dag":252,"cm":-155},{"pnl":5,"reeks":"60 cm","dag":255.8,"cm":-159.8},{"pnl":5,"reeks":"60 cm","dag":257,"cm":-157},{"pnl":5,"reeks":"60 cm","dag":258,"cm":-156},{"pnl":5,"reeks":"60 cm","dag":260,"cm":-155.2},

{"pnl":6,"reeks":"0 cm","dag":110,"cm":-149.5},{"pnl":6,"reeks":"0 cm","dag":115,"cm":-151},{"pnl":6,"reeks":"0 cm","dag":120,"cm":-152.5},{"pnl":6,"reeks":"0 cm","dag":121.5,"cm":-152.8},{"pnl":6,"reeks":"0 cm","dag":122.5,"cm":-150.5},{"pnl":6,"reeks":"0 cm","dag":124,"cm":-153.5},{"pnl":6,"reeks":"0 cm","dag":129.2,"cm":-154.5},{"pnl":6,"reeks":"0 cm","dag":133,"cm":-155.3},{"pnl":6,"reeks":"0 cm","dag":137.5,"cm":-156},{"pnl":6,"reeks":"0 cm","dag":142,"cm":-156.6},{"pnl":6,"reeks":"0 cm","dag":145.9,"cm":-157},{"pnl":6,"reeks":"0 cm","dag":154.2,"cm":-157},{"pnl":6,"reeks":"0 cm","dag":162.6,"cm":-157.5},{"pnl":6,"reeks":"0 cm","dag":164,"cm":-158},{"pnl":6,"reeks":"0 cm","dag":165.7,"cm":-159.8},{"pnl":6,"reeks":"0 cm","dag":168,"cm":-160.8},{"pnl":6,"reeks":"0 cm","dag":170.9,"cm":-161.6},{"pnl":6,"reeks":"0 cm","dag":175,"cm":-161.8},{"pnl":6,"reeks":"0 cm","dag":179.3,"cm":-161.6},{"pnl":6,"reeks":"0 cm","dag":183.4,"cm":-160.7},{"pnl":6,"reeks":"0 cm","dag":186,"cm":-159.5},{"pnl":6,"reeks":"0 cm","dag":188.7,"cm":-157.5},{"pnl":6,"reeks":"0 cm","dag":190,"cm":-158.2},{"pnl":6,"reeks":"0 cm","dag":191.8,"cm":-159.4},{"pnl":6,"reeks":"0 cm","dag":194,"cm":-157.5},{"pnl":6,"reeks":"0 cm","dag":194.9,"cm":-156},{"pnl":6,"reeks":"0 cm","dag":196.5,"cm":-158.2},{"pnl":6,"reeks":"0 cm","dag":198,"cm":-159.2},{"pnl":6,"reeks":"0 cm","dag":201,"cm":-159.3},{"pnl":6,"reeks":"0 cm","dag":204.3,"cm":-158.8},{"pnl":6,"reeks":"0 cm","dag":206,"cm":-158.5},{"pnl":6,"reeks":"0 cm","dag":208.5,"cm":-157},{"pnl":6,"reeks":"0 cm","dag":212,"cm":-157.3},{"pnl":6,"reeks":"0 cm","dag":216.8,"cm":-158.3},{"pnl":6,"reeks":"0 cm","dag":221,"cm":-159.8},{"pnl":6,"reeks":"0 cm","dag":225.2,"cm":-160.7},{"pnl":6,"reeks":"0 cm","dag":233.5,"cm":-160.7},{"pnl":6,"reeks":"0 cm","dag":238,"cm":-160},{"pnl":6,"reeks":"0 cm","dag":241.9,"cm":-159.4},{"pnl":6,"reeks":"0 cm","dag":244,"cm":-157.9},{"pnl":6,"reeks":"0 cm","dag":246,"cm":-154},{"pnl":6,"reeks":"0 cm","dag":248.1,"cm":-150.4},{"pnl":6,"reeks":"0 cm","dag":250,"cm":-152},{"pnl":6,"reeks":"0 cm","dag":252.3,"cm":-153.2},{"pnl":6,"reeks":"0 cm","dag":254,"cm":-153.5},{"pnl":6,"reeks":"0 cm","dag":256.5,"cm":-152.3},{"pnl":6,"reeks":"0 cm","dag":258,"cm":-151.8},{"pnl":6,"reeks":"0 cm","dag":260,"cm":-151.4},
{"pnl":6,"reeks":"20 cm","dag":110,"cm":-154.2},{"pnl":6,"reeks":"20 cm","dag":115,"cm":-156},{"pnl":6,"reeks":"20 cm","dag":120,"cm":-157.9},{"pnl":6,"reeks":"20 cm","dag":122,"cm":-153},{"pnl":6,"reeks":"20 cm","dag":125,"cm":-152.8},{"pnl":6,"reeks":"20 cm","dag":129.2,"cm":-152.3},{"pnl":6,"reeks":"20 cm","dag":133,"cm":-151.3},{"pnl":6,"reeks":"20 cm","dag":137.5,"cm":-150.4},{"pnl":6,"reeks":"20 cm","dag":141,"cm":-149.8},{"pnl":6,"reeks":"20 cm","dag":145.9,"cm":-149.5},{"pnl":6,"reeks":"20 cm","dag":154,"cm":-149.5},{"pnl":6,"reeks":"20 cm","dag":162.6,"cm":-149.1},{"pnl":6,"reeks":"20 cm","dag":164.7,"cm":-147.6},{"pnl":6,"reeks":"20 cm","dag":168,"cm":-148},{"pnl":6,"reeks":"20 cm","dag":173,"cm":-148.5},{"pnl":6,"reeks":"20 cm","dag":176,"cm":-147.5},{"pnl":6,"reeks":"20 cm","dag":177.2,"cm":-143.9},{"pnl":6,"reeks":"20 cm","dag":178.3,"cm":-147},{"pnl":6,"reeks":"20 cm","dag":179.3,"cm":-147.6},{"pnl":6,"reeks":"20 cm","dag":183,"cm":-146.5},{"pnl":6,"reeks":"20 cm","dag":187.6,"cm":-145.7},{"pnl":6,"reeks":"20 cm","dag":189.5,"cm":-143},{"pnl":6,"reeks":"20 cm","dag":190.7,"cm":-141.1},{"pnl":6,"reeks":"20 cm","dag":192.5,"cm":-143.5},{"pnl":6,"reeks":"20 cm","dag":194,"cm":-144.8},{"pnl":6,"reeks":"20 cm","dag":197,"cm":-145},{"pnl":6,"reeks":"20 cm","dag":200,"cm":-144.4},{"pnl":6,"reeks":"20 cm","dag":203.3,"cm":-142},{"pnl":6,"reeks":"20 cm","dag":205.3,"cm":-144.4},{"pnl":6,"reeks":"20 cm","dag":207.4,"cm":-140.1},{"pnl":6,"reeks":"20 cm","dag":209.5,"cm":-142.9},{"pnl":6,"reeks":"20 cm","dag":213,"cm":-144.3},{"pnl":6,"reeks":"20 cm","dag":216.8,"cm":-145.7},{"pnl":6,"reeks":"20 cm","dag":221,"cm":-146.5},{"pnl":6,"reeks":"20 cm","dag":225.2,"cm":-147},{"pnl":6,"reeks":"20 cm","dag":233.5,"cm":-146.6},{"pnl":6,"reeks":"20 cm","dag":237.7,"cm":-145.2},{"pnl":6,"reeks":"20 cm","dag":241.9,"cm":-145.7},{"pnl":6,"reeks":"20 cm","dag":244,"cm":-146.5},{"pnl":6,"reeks":"20 cm","dag":246,"cm":-148.5},{"pnl":6,"reeks":"20 cm","dag":248,"cm":-149.5},{"pnl":6,"reeks":"20 cm","dag":250.2,"cm":-150.4},{"pnl":6,"reeks":"20 cm","dag":252,"cm":-152},{"pnl":6,"reeks":"20 cm","dag":254.4,"cm":-154.2},{"pnl":6,"reeks":"20 cm","dag":255.5,"cm":-153},{"pnl":6,"reeks":"20 cm","dag":256.5,"cm":-150},{"pnl":6,"reeks":"20 cm","dag":258,"cm":-149.8},{"pnl":6,"reeks":"20 cm","dag":260,"cm":-149.9},
{"pnl":6,"reeks":"40 cm","dag":110,"cm":-154.2},{"pnl":6,"reeks":"40 cm","dag":115,"cm":-156},{"pnl":6,"reeks":"40 cm","dag":120,"cm":-157.9},{"pnl":6,"reeks":"40 cm","dag":122,"cm":-153},{"pnl":6,"reeks":"40 cm","dag":125.5,"cm":-152},{"pnl":6,"reeks":"40 cm","dag":129.2,"cm":-150.8},{"pnl":6,"reeks":"40 cm","dag":133,"cm":-148.5},{"pnl":6,"reeks":"40 cm","dag":137.5,"cm":-145.7},{"pnl":6,"reeks":"40 cm","dag":141,"cm":-143.5},{"pnl":6,"reeks":"40 cm","dag":145.9,"cm":-142},{"pnl":6,"reeks":"40 cm","dag":154.2,"cm":-142},{"pnl":6,"reeks":"40 cm","dag":158,"cm":-141},{"pnl":6,"reeks":"40 cm","dag":160.5,"cm":-140.1},{"pnl":6,"reeks":"40 cm","dag":162,"cm":-137},{"pnl":6,"reeks":"40 cm","dag":162.6,"cm":-135.4},{"pnl":6,"reeks":"40 cm","dag":164,"cm":-137.5},{"pnl":6,"reeks":"40 cm","dag":166.7,"cm":-138.8},{"pnl":6,"reeks":"40 cm","dag":170,"cm":-138.6},{"pnl":6,"reeks":"40 cm","dag":173,"cm":-138.2},{"pnl":6,"reeks":"40 cm","dag":175,"cm":-137.5},{"pnl":6,"reeks":"40 cm","dag":176.1,"cm":-135.4},{"pnl":6,"reeks":"40 cm","dag":177.5,"cm":-136.5},{"pnl":6,"reeks":"40 cm","dag":179.3,"cm":-136.9},{"pnl":6,"reeks":"40 cm","dag":181,"cm":-135.5},{"pnl":6,"reeks":"40 cm","dag":183.4,"cm":-133.6},{"pnl":6,"reeks":"40 cm","dag":185.5,"cm":-131},{"pnl":6,"reeks":"40 cm","dag":187.6,"cm":-128.9},{"pnl":6,"reeks":"40 cm","dag":189,"cm":-129.5},{"pnl":6,"reeks":"40 cm","dag":190.7,"cm":-128.3},{"pnl":6,"reeks":"40 cm","dag":192.5,"cm":-130},{"pnl":6,"reeks":"40 cm","dag":193.9,"cm":-130.8},{"pnl":6,"reeks":"40 cm","dag":197,"cm":-130.2},{"pnl":6,"reeks":"40 cm","dag":200.1,"cm":-129.8},{"pnl":6,"reeks":"40 cm","dag":202,"cm":-130.5},{"pnl":6,"reeks":"40 cm","dag":204.3,"cm":-128},{"pnl":6,"reeks":"40 cm","dag":206,"cm":-128.8},{"pnl":6,"reeks":"40 cm","dag":208.5,"cm":-127},{"pnl":6,"reeks":"40 cm","dag":210,"cm":-126},{"pnl":6,"reeks":"40 cm","dag":211.6,"cm":-124.2},{"pnl":6,"reeks":"40 cm","dag":213,"cm":-126},{"pnl":6,"reeks":"40 cm","dag":216.8,"cm":-128.9},{"pnl":6,"reeks":"40 cm","dag":219,"cm":-130.5},{"pnl":6,"reeks":"40 cm","dag":221,"cm":-131.7},{"pnl":6,"reeks":"40 cm","dag":225,"cm":-131.9},{"pnl":6,"reeks":"40 cm","dag":229.3,"cm":-131.7},{"pnl":6,"reeks":"40 cm","dag":233,"cm":-130.5},{"pnl":6,"reeks":"40 cm","dag":235,"cm":-129.8},{"pnl":6,"reeks":"40 cm","dag":237.7,"cm":-128},{"pnl":6,"reeks":"40 cm","dag":240.8,"cm":-126.1},{"pnl":6,"reeks":"40 cm","dag":242.9,"cm":-127},{"pnl":6,"reeks":"40 cm","dag":245,"cm":-137.3},{"pnl":6,"reeks":"40 cm","dag":248.1,"cm":-140.1},{"pnl":6,"reeks":"40 cm","dag":251,"cm":-144},{"pnl":6,"reeks":"40 cm","dag":254.4,"cm":-149.5},{"pnl":6,"reeks":"40 cm","dag":256,"cm":-150.5},{"pnl":6,"reeks":"40 cm","dag":257.5,"cm":-147.6},{"pnl":6,"reeks":"40 cm","dag":260,"cm":-148.3},
{"pnl":6,"reeks":"60 cm","dag":110,"cm":-154.2},{"pnl":6,"reeks":"60 cm","dag":115,"cm":-156},{"pnl":6,"reeks":"60 cm","dag":120,"cm":-157.9},{"pnl":6,"reeks":"60 cm","dag":122,"cm":-153},{"pnl":6,"reeks":"60 cm","dag":125.5,"cm":-151.5},{"pnl":6,"reeks":"60 cm","dag":129.2,"cm":-150},{"pnl":6,"reeks":"60 cm","dag":133,"cm":-147.5},{"pnl":6,"reeks":"60 cm","dag":137.5,"cm":-144.4},{"pnl":6,"reeks":"60 cm","dag":141,"cm":-141.5},{"pnl":6,"reeks":"60 cm","dag":145.9,"cm":-139.6},{"pnl":6,"reeks":"60 cm","dag":150,"cm":-139},{"pnl":6,"reeks":"60 cm","dag":154.2,"cm":-138.8},{"pnl":6,"reeks":"60 cm","dag":158,"cm":-137},{"pnl":6,"reeks":"60 cm","dag":160.5,"cm":-135.4},{"pnl":6,"reeks":"60 cm","dag":161.5,"cm":-132},{"pnl":6,"reeks":"60 cm","dag":162.6,"cm":-130.8},{"pnl":6,"reeks":"60 cm","dag":163.5,"cm":-131.5},{"pnl":6,"reeks":"60 cm","dag":164.7,"cm":-129.4},{"pnl":6,"reeks":"60 cm","dag":166,"cm":-131},{"pnl":6,"reeks":"60 cm","dag":168.8,"cm":-131.7},{"pnl":6,"reeks":"60 cm","dag":172,"cm":-132},{"pnl":6,"reeks":"60 cm","dag":175.1,"cm":-131.7},{"pnl":6,"reeks":"60 cm","dag":176.5,"cm":-128},{"pnl":6,"reeks":"60 cm","dag":177.2,"cm":-126.1},{"pnl":6,"reeks":"60 cm","dag":179,"cm":-127},{"pnl":6,"reeks":"60 cm","dag":181.4,"cm":-126.1},{"pnl":6,"reeks":"60 cm","dag":183,"cm":-123},{"pnl":6,"reeks":"60 cm","dag":185.5,"cm":-118.6},{"pnl":6,"reeks":"60 cm","dag":187,"cm":-120},{"pnl":6,"reeks":"60 cm","dag":188.7,"cm":-118.6},{"pnl":6,"reeks":"60 cm","dag":190,"cm":-120.5},{"pnl":6,"reeks":"60 cm","dag":191.8,"cm":-122.3},{"pnl":6,"reeks":"60 cm","dag":194,"cm":-121},{"pnl":6,"reeks":"60 cm","dag":196,"cm":-120.5},{"pnl":6,"reeks":"60 cm","dag":198,"cm":-121.5},{"pnl":6,"reeks":"60 cm","dag":200.1,"cm":-121.4},{"pnl":6,"reeks":"60 cm","dag":203,"cm":-119.5},{"pnl":6,"reeks":"60 cm","dag":205.3,"cm":-116.7},{"pnl":6,"reeks":"60 cm","dag":207,"cm":-117.5},{"pnl":6,"reeks":"60 cm","dag":208.5,"cm":-118.6},{"pnl":6,"reeks":"60 cm","dag":210,"cm":-117},{"pnl":6,"reeks":"60 cm","dag":211.6,"cm":-115.8},{"pnl":6,"reeks":"60 cm","dag":213,"cm":-117.5},{"pnl":6,"reeks":"60 cm","dag":216.8,"cm":-119.5},{"pnl":6,"reeks":"60 cm","dag":221,"cm":-121.5},{"pnl":6,"reeks":"60 cm","dag":225.2,"cm":-122.7},{"pnl":6,"reeks":"60 cm","dag":227,"cm":-121.5},{"pnl":6,"reeks":"60 cm","dag":229.3,"cm":-121.4},{"pnl":6,"reeks":"60 cm","dag":231,"cm":-122.3},{"pnl":6,"reeks":"60 cm","dag":233.5,"cm":-122.3},{"pnl":6,"reeks":"60 cm","dag":236,"cm":-120.5},{"pnl":6,"reeks":"60 cm","dag":239.8,"cm":-117.7},{"pnl":6,"reeks":"60 cm","dag":242,"cm":-118.5},{"pnl":6,"reeks":"60 cm","dag":244,"cm":-117.7},{"pnl":6,"reeks":"60 cm","dag":246,"cm":-133.6},{"pnl":6,"reeks":"60 cm","dag":248,"cm":-137},{"pnl":6,"reeks":"60 cm","dag":250.2,"cm":-140.1},{"pnl":6,"reeks":"60 cm","dag":252,"cm":-143},{"pnl":6,"reeks":"60 cm","dag":254.4,"cm":-148.2},{"pnl":6,"reeks":"60 cm","dag":256.5,"cm":-144.4},{"pnl":6,"reeks":"60 cm","dag":258,"cm":-145.5},{"pnl":6,"reeks":"60 cm","dag":260,"cm":-147.6},

{"pnl":7,"reeks":"0 cm","dag":110,"cm":-154.2},{"pnl":7,"reeks":"0 cm","dag":115,"cm":-156},{"pnl":7,"reeks":"0 cm","dag":120.9,"cm":-157.9},{"pnl":7,"reeks":"0 cm","dag":121.9,"cm":-155},{"pnl":7,"reeks":"0 cm","dag":125,"cm":-157},{"pnl":7,"reeks":"0 cm","dag":129.2,"cm":-158.8},{"pnl":7,"reeks":"0 cm","dag":133,"cm":-159.6},{"pnl":7,"reeks":"0 cm","dag":137.6,"cm":-160.3},{"pnl":7,"reeks":"0 cm","dag":144,"cm":-161},{"pnl":7,"reeks":"0 cm","dag":150.2,"cm":-161.3},{"pnl":7,"reeks":"0 cm","dag":156,"cm":-162},{"pnl":7,"reeks":"0 cm","dag":162.7,"cm":-162.6},{"pnl":7,"reeks":"0 cm","dag":168,"cm":-163},{"pnl":7,"reeks":"0 cm","dag":173.2,"cm":-163.5},{"pnl":7,"reeks":"0 cm","dag":178,"cm":-164.3},{"pnl":7,"reeks":"0 cm","dag":183.6,"cm":-165.4},{"pnl":7,"reeks":"0 cm","dag":188,"cm":-165.8},{"pnl":7,"reeks":"0 cm","dag":192,"cm":-166.3},{"pnl":7,"reeks":"0 cm","dag":194,"cm":-165.5},{"pnl":7,"reeks":"0 cm","dag":196.2,"cm":-165},{"pnl":7,"reeks":"0 cm","dag":199,"cm":-166},{"pnl":7,"reeks":"0 cm","dag":204.6,"cm":-166.3},{"pnl":7,"reeks":"0 cm","dag":210,"cm":-165.8},{"pnl":7,"reeks":"0 cm","dag":215,"cm":-165.6},{"pnl":7,"reeks":"0 cm","dag":221.3,"cm":-165.4},{"pnl":7,"reeks":"0 cm","dag":225,"cm":-166.5},{"pnl":7,"reeks":"0 cm","dag":229.7,"cm":-167.3},{"pnl":7,"reeks":"0 cm","dag":236,"cm":-167.5},{"pnl":7,"reeks":"0 cm","dag":242.2,"cm":-167.8},{"pnl":7,"reeks":"0 cm","dag":246.4,"cm":-167.3},{"pnl":7,"reeks":"0 cm","dag":250.6,"cm":-165.8},{"pnl":7,"reeks":"0 cm","dag":255.8,"cm":-165.4},{"pnl":7,"reeks":"0 cm","dag":258,"cm":-163.5},{"pnl":7,"reeks":"0 cm","dag":260,"cm":-161.3},
{"pnl":7,"reeks":"20 cm","dag":110,"cm":-154.2},{"pnl":7,"reeks":"20 cm","dag":115,"cm":-156},{"pnl":7,"reeks":"20 cm","dag":120.9,"cm":-157.9},{"pnl":7,"reeks":"20 cm","dag":122,"cm":-152.7},{"pnl":7,"reeks":"20 cm","dag":125,"cm":-152.5},{"pnl":7,"reeks":"20 cm","dag":129.2,"cm":-151.9},{"pnl":7,"reeks":"20 cm","dag":133,"cm":-150.5},{"pnl":7,"reeks":"20 cm","dag":137.6,"cm":-149.5},{"pnl":7,"reeks":"20 cm","dag":142,"cm":-149},{"pnl":7,"reeks":"20 cm","dag":146,"cm":-148.5},{"pnl":7,"reeks":"20 cm","dag":152,"cm":-149},{"pnl":7,"reeks":"20 cm","dag":158.5,"cm":-149.5},{"pnl":7,"reeks":"20 cm","dag":161,"cm":-149},{"pnl":7,"reeks":"20 cm","dag":162.7,"cm":-147.6},{"pnl":7,"reeks":"20 cm","dag":166.9,"cm":-147.6},{"pnl":7,"reeks":"20 cm","dag":170,"cm":-149},{"pnl":7,"reeks":"20 cm","dag":173.2,"cm":-150},{"pnl":7,"reeks":"20 cm","dag":178,"cm":-150.8},{"pnl":7,"reeks":"20 cm","dag":183.6,"cm":-151.4},{"pnl":7,"reeks":"20 cm","dag":188,"cm":-152.3},{"pnl":7,"reeks":"20 cm","dag":192,"cm":-153.2},{"pnl":7,"reeks":"20 cm","dag":194,"cm":-152},{"pnl":7,"reeks":"20 cm","dag":195.1,"cm":-148.2},{"pnl":7,"reeks":"20 cm","dag":196.2,"cm":-151},{"pnl":7,"reeks":"20 cm","dag":197.2,"cm":-152.7},{"pnl":7,"reeks":"20 cm","dag":201,"cm":-153.3},{"pnl":7,"reeks":"20 cm","dag":204.6,"cm":-153.8},{"pnl":7,"reeks":"20 cm","dag":208,"cm":-153},{"pnl":7,"reeks":"20 cm","dag":210.9,"cm":-152.3},{"pnl":7,"reeks":"20 cm","dag":215,"cm":-153.2},{"pnl":7,"reeks":"20 cm","dag":221.3,"cm":-154.2},{"pnl":7,"reeks":"20 cm","dag":229.7,"cm":-155.1},{"pnl":7,"reeks":"20 cm","dag":242.2,"cm":-155.1},{"pnl":7,"reeks":"20 cm","dag":244,"cm":-156.5},{"pnl":7,"reeks":"20 cm","dag":246.4,"cm":-158.3},{"pnl":7,"reeks":"20 cm","dag":250,"cm":-159.3},{"pnl":7,"reeks":"20 cm","dag":252.7,"cm":-159.8},{"pnl":7,"reeks":"20 cm","dag":255.8,"cm":-161.6},{"pnl":7,"reeks":"20 cm","dag":258,"cm":-159.5},{"pnl":7,"reeks":"20 cm","dag":260,"cm":-157.9},
{"pnl":7,"reeks":"40 cm","dag":110,"cm":-154.2},{"pnl":7,"reeks":"40 cm","dag":115,"cm":-156},{"pnl":7,"reeks":"40 cm","dag":120.9,"cm":-157.9},{"pnl":7,"reeks":"40 cm","dag":122,"cm":-152},{"pnl":7,"reeks":"40 cm","dag":124.5,"cm":-149.5},{"pnl":7,"reeks":"40 cm","dag":127.2,"cm":-146.7},{"pnl":7,"reeks":"40 cm","dag":130,"cm":-142.5},{"pnl":7,"reeks":"40 cm","dag":133.4,"cm":-138.3},{"pnl":7,"reeks":"40 cm","dag":137.5,"cm":-136.5},{"pnl":7,"reeks":"40 cm","dag":141.8,"cm":-135.4},{"pnl":7,"reeks":"40 cm","dag":146,"cm":-135.3},{"pnl":7,"reeks":"40 cm","dag":150.2,"cm":-135.4},{"pnl":7,"reeks":"40 cm","dag":154,"cm":-135},{"pnl":7,"reeks":"40 cm","dag":158.5,"cm":-134.5},{"pnl":7,"reeks":"40 cm","dag":162.7,"cm":-134.5},{"pnl":7,"reeks":"40 cm","dag":163.8,"cm":-132},{"pnl":7,"reeks":"40 cm","dag":164.8,"cm":-129.8},{"pnl":7,"reeks":"40 cm","dag":166.5,"cm":-132.5},{"pnl":7,"reeks":"40 cm","dag":169,"cm":-133.6},{"pnl":7,"reeks":"40 cm","dag":172,"cm":-135.5},{"pnl":7,"reeks":"40 cm","dag":175.3,"cm":-136.9},{"pnl":7,"reeks":"40 cm","dag":177.5,"cm":-136},{"pnl":7,"reeks":"40 cm","dag":179.5,"cm":-135.4},{"pnl":7,"reeks":"40 cm","dag":181.5,"cm":-136.5},{"pnl":7,"reeks":"40 cm","dag":183.6,"cm":-137.3},{"pnl":7,"reeks":"40 cm","dag":188,"cm":-137.8},{"pnl":7,"reeks":"40 cm","dag":192,"cm":-138.3},{"pnl":7,"reeks":"40 cm","dag":193,"cm":-137},{"pnl":7,"reeks":"40 cm","dag":194.1,"cm":-136.4},{"pnl":7,"reeks":"40 cm","dag":195,"cm":-137.5},{"pnl":7,"reeks":"40 cm","dag":196.2,"cm":-135.4},{"pnl":7,"reeks":"40 cm","dag":197.2,"cm":-137.5},{"pnl":7,"reeks":"40 cm","dag":198.3,"cm":-138.3},{"pnl":7,"reeks":"40 cm","dag":201,"cm":-138.5},{"pnl":7,"reeks":"40 cm","dag":204.6,"cm":-138.8},{"pnl":7,"reeks":"40 cm","dag":208,"cm":-137.5},{"pnl":7,"reeks":"40 cm","dag":210.9,"cm":-136.4},{"pnl":7,"reeks":"40 cm","dag":215,"cm":-137.3},{"pnl":7,"reeks":"40 cm","dag":221.3,"cm":-138.8},{"pnl":7,"reeks":"40 cm","dag":225,"cm":-139.5},{"pnl":7,"reeks":"40 cm","dag":229.7,"cm":-140.1},{"pnl":7,"reeks":"40 cm","dag":236,"cm":-139.8},{"pnl":7,"reeks":"40 cm","dag":242.2,"cm":-139.2},{"pnl":7,"reeks":"40 cm","dag":244.3,"cm":-141.1},{"pnl":7,"reeks":"40 cm","dag":246.4,"cm":-147.6},{"pnl":7,"reeks":"40 cm","dag":248,"cm":-148.5},{"pnl":7,"reeks":"40 cm","dag":250.6,"cm":-150.4},{"pnl":7,"reeks":"40 cm","dag":253,"cm":-154},{"pnl":7,"reeks":"40 cm","dag":255.8,"cm":-157.9},{"pnl":7,"reeks":"40 cm","dag":257,"cm":-155.5},{"pnl":7,"reeks":"40 cm","dag":258.9,"cm":-154.2},{"pnl":7,"reeks":"40 cm","dag":260,"cm":-154.2},
{"pnl":7,"reeks":"60 cm","dag":110,"cm":-154.2},{"pnl":7,"reeks":"60 cm","dag":115,"cm":-156},{"pnl":7,"reeks":"60 cm","dag":120.9,"cm":-157.9},{"pnl":7,"reeks":"60 cm","dag":122,"cm":-152},{"pnl":7,"reeks":"60 cm","dag":124.5,"cm":-145},{"pnl":7,"reeks":"60 cm","dag":127.2,"cm":-138.3},{"pnl":7,"reeks":"60 cm","dag":130,"cm":-133},{"pnl":7,"reeks":"60 cm","dag":133.4,"cm":-128},{"pnl":7,"reeks":"60 cm","dag":135.5,"cm":-125.3},{"pnl":7,"reeks":"60 cm","dag":137.6,"cm":-123.3},{"pnl":7,"reeks":"60 cm","dag":141,"cm":-121},{"pnl":7,"reeks":"60 cm","dag":143.5,"cm":-120},{"pnl":7,"reeks":"60 cm","dag":146,"cm":-119.5},{"pnl":7,"reeks":"60 cm","dag":150,"cm":-119.8},{"pnl":7,"reeks":"60 cm","dag":154.4,"cm":-120.1},{"pnl":7,"reeks":"60 cm","dag":156.5,"cm":-119.3},{"pnl":7,"reeks":"60 cm","dag":158.5,"cm":-118.6},{"pnl":7,"reeks":"60 cm","dag":160.5,"cm":-119.5},{"pnl":7,"reeks":"60 cm","dag":162.7,"cm":-118.8},{"pnl":7,"reeks":"60 cm","dag":163.5,"cm":-116},{"pnl":7,"reeks":"60 cm","dag":164.8,"cm":-114.8},{"pnl":7,"reeks":"60 cm","dag":165.8,"cm":-117},{"pnl":7,"reeks":"60 cm","dag":166.9,"cm":-116.7},{"pnl":7,"reeks":"60 cm","dag":169,"cm":-118.5},{"pnl":7,"reeks":"60 cm","dag":171,"cm":-120.5},{"pnl":7,"reeks":"60 cm","dag":173.2,"cm":-121.4},{"pnl":7,"reeks":"60 cm","dag":175,"cm":-121.5},{"pnl":7,"reeks":"60 cm","dag":177.5,"cm":-119.3},{"pnl":7,"reeks":"60 cm","dag":179.5,"cm":-120.1},{"pnl":7,"reeks":"60 cm","dag":181.5,"cm":-121.5},{"pnl":7,"reeks":"60 cm","dag":183.6,"cm":-122.3},{"pnl":7,"reeks":"60 cm","dag":192,"cm":-122.3},{"pnl":7,"reeks":"60 cm","dag":194,"cm":-120.5},{"pnl":7,"reeks":"60 cm","dag":195.1,"cm":-118.6},{"pnl":7,"reeks":"60 cm","dag":196.5,"cm":-121},{"pnl":7,"reeks":"60 cm","dag":197.5,"cm":-119.5},{"pnl":7,"reeks":"60 cm","dag":199.3,"cm":-122.3},{"pnl":7,"reeks":"60 cm","dag":202,"cm":-122.5},{"pnl":7,"reeks":"60 cm","dag":204.6,"cm":-122.3},{"pnl":7,"reeks":"60 cm","dag":207,"cm":-120.5},{"pnl":7,"reeks":"60 cm","dag":208.8,"cm":-118.6},{"pnl":7,"reeks":"60 cm","dag":210,"cm":-119.5},{"pnl":7,"reeks":"60 cm","dag":211,"cm":-118.3},{"pnl":7,"reeks":"60 cm","dag":213,"cm":-120.5},{"pnl":7,"reeks":"60 cm","dag":217,"cm":-121.5},{"pnl":7,"reeks":"60 cm","dag":221.3,"cm":-123.3},{"pnl":7,"reeks":"60 cm","dag":225,"cm":-123.9},{"pnl":7,"reeks":"60 cm","dag":229.7,"cm":-124.2},{"pnl":7,"reeks":"60 cm","dag":233,"cm":-123.8},{"pnl":7,"reeks":"60 cm","dag":236,"cm":-123.3},{"pnl":7,"reeks":"60 cm","dag":238.1,"cm":-122.7},{"pnl":7,"reeks":"60 cm","dag":244.3,"cm":-122.7},{"pnl":7,"reeks":"60 cm","dag":245.4,"cm":-137.3},{"pnl":7,"reeks":"60 cm","dag":247,"cm":-139.5},{"pnl":7,"reeks":"60 cm","dag":248.5,"cm":-141.1},{"pnl":7,"reeks":"60 cm","dag":250.6,"cm":-145},{"pnl":7,"reeks":"60 cm","dag":252.7,"cm":-148.5},{"pnl":7,"reeks":"60 cm","dag":254.5,"cm":-152},{"pnl":7,"reeks":"60 cm","dag":255.8,"cm":-154.2},{"pnl":7,"reeks":"60 cm","dag":257.9,"cm":-148.5},{"pnl":7,"reeks":"60 cm","dag":260,"cm":-152.3},

{"pnl":8,"reeks":"0 cm","dag":110,"cm":-149.1},{"pnl":8,"reeks":"0 cm","dag":115,"cm":-150.8},{"pnl":8,"reeks":"0 cm","dag":121.3,"cm":-152.7},{"pnl":8,"reeks":"0 cm","dag":123.4,"cm":-152},{"pnl":8,"reeks":"0 cm","dag":126,"cm":-153.2},{"pnl":8,"reeks":"0 cm","dag":129.6,"cm":-154.2},{"pnl":8,"reeks":"0 cm","dag":134,"cm":-155},{"pnl":8,"reeks":"0 cm","dag":138,"cm":-155.7},{"pnl":8,"reeks":"0 cm","dag":146.3,"cm":-156.5},{"pnl":8,"reeks":"0 cm","dag":152,"cm":-157},{"pnl":8,"reeks":"0 cm","dag":158.8,"cm":-157.2},{"pnl":8,"reeks":"0 cm","dag":163,"cm":-157.8},{"pnl":8,"reeks":"0 cm","dag":165.1,"cm":-159.6},{"pnl":8,"reeks":"0 cm","dag":168,"cm":-160.6},{"pnl":8,"reeks":"0 cm","dag":171.4,"cm":-161.5},{"pnl":8,"reeks":"0 cm","dag":175.5,"cm":-161.7},{"pnl":8,"reeks":"0 cm","dag":179.7,"cm":-161.5},{"pnl":8,"reeks":"0 cm","dag":183,"cm":-160.8},{"pnl":8,"reeks":"0 cm","dag":186,"cm":-160},{"pnl":8,"reeks":"0 cm","dag":189.1,"cm":-157.2},{"pnl":8,"reeks":"0 cm","dag":192.3,"cm":-159},{"pnl":8,"reeks":"0 cm","dag":194,"cm":-157.5},{"pnl":8,"reeks":"0 cm","dag":195.3,"cm":-156.1},{"pnl":8,"reeks":"0 cm","dag":197,"cm":-158},{"pnl":8,"reeks":"0 cm","dag":198.5,"cm":-159},{"pnl":8,"reeks":"0 cm","dag":201.5,"cm":-159.2},{"pnl":8,"reeks":"0 cm","dag":204.7,"cm":-159},{"pnl":8,"reeks":"0 cm","dag":207,"cm":-158},{"pnl":8,"reeks":"0 cm","dag":209,"cm":-156.1},{"pnl":8,"reeks":"0 cm","dag":213,"cm":-156.8},{"pnl":8,"reeks":"0 cm","dag":217.3,"cm":-157.9},{"pnl":8,"reeks":"0 cm","dag":221,"cm":-158.8},{"pnl":8,"reeks":"0 cm","dag":225.6,"cm":-159.8},{"pnl":8,"reeks":"0 cm","dag":232,"cm":-160},{"pnl":8,"reeks":"0 cm","dag":238.1,"cm":-159.8},{"pnl":8,"reeks":"0 cm","dag":242,"cm":-159.3},{"pnl":8,"reeks":"0 cm","dag":244.4,"cm":-159},{"pnl":8,"reeks":"0 cm","dag":246.5,"cm":-154.5},{"pnl":8,"reeks":"0 cm","dag":248.5,"cm":-149.5},{"pnl":8,"reeks":"0 cm","dag":250.6,"cm":-151.5},{"pnl":8,"reeks":"0 cm","dag":252.7,"cm":-152.3},{"pnl":8,"reeks":"0 cm","dag":254.8,"cm":-152.8},{"pnl":8,"reeks":"0 cm","dag":256.9,"cm":-153.2},{"pnl":8,"reeks":"0 cm","dag":258.5,"cm":-150},{"pnl":8,"reeks":"0 cm","dag":260,"cm":-146.7},
{"pnl":8,"reeks":"20 cm","dag":110,"cm":-154.5},{"pnl":8,"reeks":"20 cm","dag":115,"cm":-156.2},{"pnl":8,"reeks":"20 cm","dag":120.2,"cm":-157.9},{"pnl":8,"reeks":"20 cm","dag":122,"cm":-152},{"pnl":8,"reeks":"20 cm","dag":125.5,"cm":-152},{"pnl":8,"reeks":"20 cm","dag":129.6,"cm":-151.9},{"pnl":8,"reeks":"20 cm","dag":134,"cm":-151},{"pnl":8,"reeks":"20 cm","dag":138,"cm":-150},{"pnl":8,"reeks":"20 cm","dag":142,"cm":-149.3},{"pnl":8,"reeks":"20 cm","dag":146.3,"cm":-148.9},{"pnl":8,"reeks":"20 cm","dag":152,"cm":-149.2},{"pnl":8,"reeks":"20 cm","dag":158.8,"cm":-149.5},{"pnl":8,"reeks":"20 cm","dag":161,"cm":-148.8},{"pnl":8,"reeks":"20 cm","dag":163,"cm":-147.6},{"pnl":8,"reeks":"20 cm","dag":168,"cm":-147.8},{"pnl":8,"reeks":"20 cm","dag":172,"cm":-148},{"pnl":8,"reeks":"20 cm","dag":175.5,"cm":-148.2},{"pnl":8,"reeks":"20 cm","dag":176.7,"cm":-146},{"pnl":8,"reeks":"20 cm","dag":177.6,"cm":-143.3},{"pnl":8,"reeks":"20 cm","dag":178.5,"cm":-146.5},{"pnl":8,"reeks":"20 cm","dag":179.7,"cm":-147.6},{"pnl":8,"reeks":"20 cm","dag":184,"cm":-146.5},{"pnl":8,"reeks":"20 cm","dag":188,"cm":-144.8},{"pnl":8,"reeks":"20 cm","dag":189.7,"cm":-143},{"pnl":8,"reeks":"20 cm","dag":191.2,"cm":-140.7},{"pnl":8,"reeks":"20 cm","dag":192.8,"cm":-142.8},{"pnl":8,"reeks":"20 cm","dag":194.3,"cm":-144.8},{"pnl":8,"reeks":"20 cm","dag":197.5,"cm":-144.8},{"pnl":8,"reeks":"20 cm","dag":200.6,"cm":-144.4},{"pnl":8,"reeks":"20 cm","dag":203.7,"cm":-141.4},{"pnl":8,"reeks":"20 cm","dag":205.8,"cm":-143.9},{"pnl":8,"reeks":"20 cm","dag":207.9,"cm":-140.1},{"pnl":8,"reeks":"20 cm","dag":209.5,"cm":-142},{"pnl":8,"reeks":"20 cm","dag":211,"cm":-142.9},{"pnl":8,"reeks":"20 cm","dag":215,"cm":-144.5},{"pnl":8,"reeks":"20 cm","dag":221.4,"cm":-147},{"pnl":8,"reeks":"20 cm","dag":227,"cm":-147.2},{"pnl":8,"reeks":"20 cm","dag":233.9,"cm":-147},{"pnl":8,"reeks":"20 cm","dag":238.1,"cm":-145.2},{"pnl":8,"reeks":"20 cm","dag":242.3,"cm":-145.4},{"pnl":8,"reeks":"20 cm","dag":245.4,"cm":-148.5},{"pnl":8,"reeks":"20 cm","dag":248,"cm":-150},{"pnl":8,"reeks":"20 cm","dag":250.6,"cm":-151.4},{"pnl":8,"reeks":"20 cm","dag":252.7,"cm":-153},{"pnl":8,"reeks":"20 cm","dag":254.8,"cm":-155.1},{"pnl":8,"reeks":"20 cm","dag":256.9,"cm":-150.4},{"pnl":8,"reeks":"20 cm","dag":258.5,"cm":-149.8},{"pnl":8,"reeks":"20 cm","dag":260,"cm":-149.5},
{"pnl":8,"reeks":"40 cm","dag":110,"cm":-154.5},{"pnl":8,"reeks":"40 cm","dag":115,"cm":-156.2},{"pnl":8,"reeks":"40 cm","dag":120.2,"cm":-157.9},{"pnl":8,"reeks":"40 cm","dag":122,"cm":-151},{"pnl":8,"reeks":"40 cm","dag":123.5,"cm":-149},{"pnl":8,"reeks":"40 cm","dag":125.4,"cm":-146.7},{"pnl":8,"reeks":"40 cm","dag":129.6,"cm":-143},{"pnl":8,"reeks":"40 cm","dag":133.8,"cm":-139.2},{"pnl":8,"reeks":"40 cm","dag":138,"cm":-137.3},{"pnl":8,"reeks":"40 cm","dag":142,"cm":-136},{"pnl":8,"reeks":"40 cm","dag":146.3,"cm":-135.1},{"pnl":8,"reeks":"40 cm","dag":152,"cm":-135.2},{"pnl":8,"reeks":"40 cm","dag":158.8,"cm":-135},{"pnl":8,"reeks":"40 cm","dag":161.5,"cm":-133.8},{"pnl":8,"reeks":"40 cm","dag":163,"cm":-130.8},{"pnl":8,"reeks":"40 cm","dag":164.5,"cm":-133},{"pnl":8,"reeks":"40 cm","dag":167.2,"cm":-134.5},{"pnl":8,"reeks":"40 cm","dag":171,"cm":-134},{"pnl":8,"reeks":"40 cm","dag":175.5,"cm":-133.2},{"pnl":8,"reeks":"40 cm","dag":176.7,"cm":-131},{"pnl":8,"reeks":"40 cm","dag":177.6,"cm":-129.4},{"pnl":8,"reeks":"40 cm","dag":178.7,"cm":-130.5},{"pnl":8,"reeks":"40 cm","dag":179.7,"cm":-130.8},{"pnl":8,"reeks":"40 cm","dag":184,"cm":-129.4},{"pnl":8,"reeks":"40 cm","dag":188,"cm":-127.6},{"pnl":8,"reeks":"40 cm","dag":190,"cm":-128.5},{"pnl":8,"reeks":"40 cm","dag":192.2,"cm":-127},{"pnl":8,"reeks":"40 cm","dag":194.3,"cm":-129},{"pnl":8,"reeks":"40 cm","dag":196.4,"cm":-130.8},{"pnl":8,"reeks":"40 cm","dag":200.6,"cm":-129.8},{"pnl":8,"reeks":"40 cm","dag":202.7,"cm":-128},{"pnl":8,"reeks":"40 cm","dag":204.7,"cm":-126.4},{"pnl":8,"reeks":"40 cm","dag":207,"cm":-125.8},{"pnl":8,"reeks":"40 cm","dag":208,"cm":-127},{"pnl":8,"reeks":"40 cm","dag":210,"cm":-123.3},{"pnl":8,"reeks":"40 cm","dag":212,"cm":-125.5},{"pnl":8,"reeks":"40 cm","dag":214,"cm":-127},{"pnl":8,"reeks":"40 cm","dag":217.3,"cm":-128.3},{"pnl":8,"reeks":"40 cm","dag":221.4,"cm":-130.5},{"pnl":8,"reeks":"40 cm","dag":225.6,"cm":-131.7},{"pnl":8,"reeks":"40 cm","dag":229.8,"cm":-131.3},{"pnl":8,"reeks":"40 cm","dag":233.9,"cm":-130.8},{"pnl":8,"reeks":"40 cm","dag":236,"cm":-129.5},{"pnl":8,"reeks":"40 cm","dag":238.1,"cm":-128.3},{"pnl":8,"reeks":"40 cm","dag":240.2,"cm":-127.5},{"pnl":8,"reeks":"40 cm","dag":242.3,"cm":-127},{"pnl":8,"reeks":"40 cm","dag":244.4,"cm":-128.9},{"pnl":8,"reeks":"40 cm","dag":246.5,"cm":-139.2},{"pnl":8,"reeks":"40 cm","dag":248.5,"cm":-141.5},{"pnl":8,"reeks":"40 cm","dag":250.6,"cm":-148.5},{"pnl":8,"reeks":"40 cm","dag":252.7,"cm":-150},{"pnl":8,"reeks":"40 cm","dag":254.8,"cm":-150.8},{"pnl":8,"reeks":"40 cm","dag":256.5,"cm":-148},{"pnl":8,"reeks":"40 cm","dag":258,"cm":-145.7},{"pnl":8,"reeks":"40 cm","dag":260,"cm":-148.2},
{"pnl":8,"reeks":"60 cm","dag":110,"cm":-149.1},{"pnl":8,"reeks":"60 cm","dag":115,"cm":-150.8},{"pnl":8,"reeks":"60 cm","dag":121.3,"cm":-152.7},{"pnl":8,"reeks":"60 cm","dag":122.5,"cm":-145},{"pnl":8,"reeks":"60 cm","dag":125.4,"cm":-135.4},{"pnl":8,"reeks":"60 cm","dag":128.5,"cm":-130.5},{"pnl":8,"reeks":"60 cm","dag":131.7,"cm":-126.1},{"pnl":8,"reeks":"60 cm","dag":133.8,"cm":-123},{"pnl":8,"reeks":"60 cm","dag":135.9,"cm":-120.5},{"pnl":8,"reeks":"60 cm","dag":139,"cm":-118},{"pnl":8,"reeks":"60 cm","dag":142.1,"cm":-116.7},{"pnl":8,"reeks":"60 cm","dag":146.3,"cm":-116.5},{"pnl":8,"reeks":"60 cm","dag":150.5,"cm":-116.3},{"pnl":8,"reeks":"60 cm","dag":155,"cm":-115.6},{"pnl":8,"reeks":"60 cm","dag":158.8,"cm":-114.8},{"pnl":8,"reeks":"60 cm","dag":160.5,"cm":-114},{"pnl":8,"reeks":"60 cm","dag":162,"cm":-110.2},{"pnl":8,"reeks":"60 cm","dag":163.5,"cm":-113},{"pnl":8,"reeks":"60 cm","dag":165,"cm":-116},{"pnl":8,"reeks":"60 cm","dag":167.2,"cm":-117.7},{"pnl":8,"reeks":"60 cm","dag":170,"cm":-117},{"pnl":8,"reeks":"60 cm","dag":173,"cm":-116},{"pnl":8,"reeks":"60 cm","dag":175.5,"cm":-114.5},{"pnl":8,"reeks":"60 cm","dag":177.5,"cm":-113.7},{"pnl":8,"reeks":"60 cm","dag":179.7,"cm":-113.3},{"pnl":8,"reeks":"60 cm","dag":181.7,"cm":-114.7},{"pnl":8,"reeks":"60 cm","dag":183.8,"cm":-114.8},{"pnl":8,"reeks":"60 cm","dag":186,"cm":-113},{"pnl":8,"reeks":"60 cm","dag":188,"cm":-111.1},{"pnl":8,"reeks":"60 cm","dag":190,"cm":-112.5},{"pnl":8,"reeks":"60 cm","dag":191.5,"cm":-111.5},{"pnl":8,"reeks":"60 cm","dag":193.2,"cm":-115.8},{"pnl":8,"reeks":"60 cm","dag":196,"cm":-114.5},{"pnl":8,"reeks":"60 cm","dag":198,"cm":-114.7},{"pnl":8,"reeks":"60 cm","dag":200.6,"cm":-113.9},{"pnl":8,"reeks":"60 cm","dag":202.7,"cm":-112},{"pnl":8,"reeks":"60 cm","dag":204.7,"cm":-107.4},{"pnl":8,"reeks":"60 cm","dag":206.5,"cm":-109.5},{"pnl":8,"reeks":"60 cm","dag":208,"cm":-111},{"pnl":8,"reeks":"60 cm","dag":209,"cm":-111.5},{"pnl":8,"reeks":"60 cm","dag":211,"cm":-108.9},{"pnl":8,"reeks":"60 cm","dag":213,"cm":-112},{"pnl":8,"reeks":"60 cm","dag":217.3,"cm":-114.5},{"pnl":8,"reeks":"60 cm","dag":221,"cm":-116.5},{"pnl":8,"reeks":"60 cm","dag":225.6,"cm":-118.6},{"pnl":8,"reeks":"60 cm","dag":227.5,"cm":-117.5},{"pnl":8,"reeks":"60 cm","dag":229.8,"cm":-115.8},{"pnl":8,"reeks":"60 cm","dag":231.5,"cm":-117.5},{"pnl":8,"reeks":"60 cm","dag":233.9,"cm":-116.7},{"pnl":8,"reeks":"60 cm","dag":236,"cm":-114.5},{"pnl":8,"reeks":"60 cm","dag":238,"cm":-112.5},{"pnl":8,"reeks":"60 cm","dag":240.2,"cm":-110.7},{"pnl":8,"reeks":"60 cm","dag":242.3,"cm":-111.5},{"pnl":8,"reeks":"60 cm","dag":244.4,"cm":-112.6},{"pnl":8,"reeks":"60 cm","dag":246.5,"cm":-126.1},{"pnl":8,"reeks":"60 cm","dag":248.5,"cm":-131},{"pnl":8,"reeks":"60 cm","dag":250.6,"cm":-133.6},{"pnl":8,"reeks":"60 cm","dag":252.7,"cm":-138.5},{"pnl":8,"reeks":"60 cm","dag":254.8,"cm":-143.9},{"pnl":8,"reeks":"60 cm","dag":256.9,"cm":-138.8},{"pnl":8,"reeks":"60 cm","dag":258.5,"cm":-140.5},{"pnl":8,"reeks":"60 cm","dag":260,"cm":-141.4}
]
},
"spacing":27,
"resolve":{"scale":{"color":"independent"},"legend":{"color":"independent"}},
"vconcat":[
{"title":"slootpeil (cm mv)","spacing":23,"resolve":{"scale":{"color":"independent"},"legend":{"color":"independent"}},
 "hconcat":[
  {"width":240,"height":214,"layer":[
   {"data":{"values":[{}]},"mark":{"type":"rule","color":"#000","strokeWidth":1},"encoding":{"y":{"datum":-60,"type":"quantitative"}}},
   {"data":{"name":"reeksen"},"transform":[{"filter":"datum.pnl == 1"}],"mark":{"type":"line","strokeWidth":2.2},
    "encoding":{
     "x":{"field":"dag","type":"quantitative","scale":{"domain":[110,260],"nice":false,"zero":false},"axis":{"values":[110,135,160,185,210,235,260],"tickCount":20,"labelOverlap":false}},
     "y":{"field":"cm","type":"quantitative","scale":{"domain":[-180,-60],"nice":false,"zero":false},"axis":{"values":[-180,-160,-140,-120,-100,-80,-60],"tickCount":20,"labelOverlap":false}},
     "color":{"field":"reeks","type":"nominal","scale":{"domain":["0 cm","20 cm","40 cm","60 cm"],"range":["#00ff00","#00ffff","#0000ff","#ff00ff"]},
      "legend":{"orient":"none","legendX":144,"legendY":31,"title":null,"symbolType":"stroke","symbolSize":1156,"symbolStrokeWidth":2.5,"labelFontSize":13,"labelColor":"#000","clipHeight":19,"rowPadding":0,"labelOffset":3,"padding":0}}}},
   {"data":{"name":"teksten"},"transform":[{"filter":"datum.pnl == 1"}],"mark":{"type":"text","align":"left","baseline":"middle","fontSize":14.5,"lineBreak":"\n","lineHeight":20,"color":"#000"},"encoding":{"x":{"datum":117.5},"y":{"datum":-69.5},"text":{"field":"tekst"}}}
  ]},
  {"width":240,"height":214,"layer":[
   {"data":{"values":[{}]},"mark":{"type":"rule","color":"#000","strokeWidth":1},"encoding":{"y":{"datum":-60,"type":"quantitative"}}},
   {"data":{"name":"reeksen"},"transform":[{"filter":"datum.pnl == 2"}],"mark":{"type":"line","strokeWidth":2.2},
    "encoding":{
     "x":{"field":"dag","type":"quantitative","scale":{"domain":[110,260],"nice":false,"zero":false},"axis":{"values":[110,135,160,185,210,235,260],"tickCount":20,"labelOverlap":false}},
     "y":{"field":"cm","type":"quantitative","scale":{"domain":[-180,-60],"nice":false,"zero":false},"axis":{"values":[-180,-160,-140,-120,-100,-80,-60],"tickCount":20,"labelOverlap":false}},
     "color":{"field":"reeks","type":"nominal","scale":{"domain":["0 cm","20 cm","40 cm","60 cm"],"range":["#00ff00","#00ffff","#0000ff","#ff00ff"]},"legend":null}}},
   {"data":{"name":"teksten"},"transform":[{"filter":"datum.pnl == 2"}],"mark":{"type":"text","align":"left","baseline":"middle","fontSize":14.5,"lineBreak":"\n","lineHeight":20,"color":"#000"},"encoding":{"x":{"datum":117.5},"y":{"datum":-69.5},"text":{"field":"tekst"}}}
  ]},
  {"width":240,"height":214,"layer":[
   {"data":{"values":[{}]},"mark":{"type":"rule","color":"#000","strokeWidth":1},"encoding":{"y":{"datum":-60,"type":"quantitative"}}},
   {"data":{"name":"reeksen"},"transform":[{"filter":"datum.pnl == 3"}],"mark":{"type":"line","strokeWidth":2.2},
    "encoding":{
     "x":{"field":"dag","type":"quantitative","scale":{"domain":[110,260],"nice":false,"zero":false},"axis":{"values":[110,135,160,185,210,235,260],"tickCount":20,"labelOverlap":false}},
     "y":{"field":"cm","type":"quantitative","scale":{"domain":[-180,-60],"nice":false,"zero":false},"axis":{"values":[-180,-160,-140,-120,-100,-80,-60],"tickCount":20,"labelOverlap":false}},
     "color":{"field":"reeks","type":"nominal","scale":{"domain":["0 cm","20 cm","40 cm","60 cm"],"range":["#00ff00","#00ffff","#0000ff","#ff00ff"]},"legend":null}}},
   {"data":{"name":"teksten"},"transform":[{"filter":"datum.pnl == 3"}],"mark":{"type":"text","align":"left","baseline":"middle","fontSize":14.5,"lineBreak":"\n","lineHeight":20,"color":"#000"},"encoding":{"x":{"datum":117.5},"y":{"datum":-69.5},"text":{"field":"tekst"}}}
  ]},
  {"width":240,"height":214,"layer":[
   {"data":{"values":[{}]},"mark":{"type":"rule","color":"#000","strokeWidth":1},"encoding":{"y":{"datum":-60,"type":"quantitative"}}},
   {"data":{"name":"reeksen"},"transform":[{"filter":"datum.pnl == 4"}],"mark":{"type":"line","strokeWidth":2.2},
    "encoding":{
     "x":{"field":"dag","type":"quantitative","scale":{"domain":[110,260],"nice":false,"zero":false},"axis":{"values":[110,135,160,185,210,235,260],"tickCount":20,"labelOverlap":false}},
     "y":{"field":"cm","type":"quantitative","scale":{"domain":[-180,-60],"nice":false,"zero":false},"axis":{"values":[-180,-160,-140,-120,-100,-80,-60],"tickCount":20,"labelOverlap":false}},
     "color":{"field":"reeks","type":"nominal","scale":{"domain":["0 cm","20 cm","40 cm","60 cm"],"range":["#00ff00","#00ffff","#0000ff","#ff00ff"]},"legend":null}}},
   {"data":{"name":"teksten"},"transform":[{"filter":"datum.pnl == 4"}],"mark":{"type":"text","align":"left","baseline":"middle","fontSize":14.5,"lineBreak":"\n","lineHeight":20,"color":"#000"},"encoding":{"x":{"datum":117.5},"y":{"datum":-69.5},"text":{"field":"tekst"}}}
  ]}
 ]},
{"title":"grondwaterstand (cm mv)","spacing":23,"resolve":{"scale":{"color":"independent"},"legend":{"color":"independent"}},
 "hconcat":[
  {"width":240,"height":214,"layer":[
   {"data":{"values":[{}]},"mark":{"type":"rule","color":"#000","strokeWidth":1},"encoding":{"y":{"datum":-60,"type":"quantitative"}}},
   {"data":{"name":"reeksen"},"transform":[{"filter":"datum.pnl == 5"}],"mark":{"type":"line","strokeWidth":2.2},
    "encoding":{
     "x":{"field":"dag","type":"quantitative","scale":{"domain":[110,260],"nice":false,"zero":false},"axis":{"values":[110,135,160,185,210,235,260],"tickCount":20,"labelOverlap":false}},
     "y":{"field":"cm","type":"quantitative","scale":{"domain":[-180,-60],"nice":false,"zero":false},"axis":{"values":[-180,-160,-140,-120,-100,-80,-60],"tickCount":20,"labelOverlap":false}},
     "color":{"field":"reeks","type":"nominal","scale":{"domain":["0 cm","20 cm","40 cm","60 cm"],"range":["#00ff00","#00ffff","#0000ff","#ff00ff"]},"legend":null}}},
   {"data":{"name":"teksten"},"transform":[{"filter":"datum.pnl == 5"}],"mark":{"type":"text","align":"left","baseline":"middle","fontSize":14.5,"lineBreak":"\n","lineHeight":20,"color":"#000"},"encoding":{"x":{"datum":117.5},"y":{"datum":-70.5},"text":{"field":"tekst"}}}
  ]},
  {"width":240,"height":214,"layer":[
   {"data":{"values":[{}]},"mark":{"type":"rule","color":"#000","strokeWidth":1},"encoding":{"y":{"datum":-60,"type":"quantitative"}}},
   {"data":{"name":"reeksen"},"transform":[{"filter":"datum.pnl == 6"}],"mark":{"type":"line","strokeWidth":2.2},
    "encoding":{
     "x":{"field":"dag","type":"quantitative","scale":{"domain":[110,260],"nice":false,"zero":false},"axis":{"values":[110,135,160,185,210,235,260],"tickCount":20,"labelOverlap":false}},
     "y":{"field":"cm","type":"quantitative","scale":{"domain":[-180,-60],"nice":false,"zero":false},"axis":{"values":[-180,-160,-140,-120,-100,-80,-60],"tickCount":20,"labelOverlap":false}},
     "color":{"field":"reeks","type":"nominal","scale":{"domain":["0 cm","20 cm","40 cm","60 cm"],"range":["#00ff00","#00ffff","#0000ff","#ff00ff"]},"legend":null}}},
   {"data":{"name":"teksten"},"transform":[{"filter":"datum.pnl == 6"}],"mark":{"type":"text","align":"left","baseline":"middle","fontSize":14.5,"lineBreak":"\n","lineHeight":20,"color":"#000"},"encoding":{"x":{"datum":117.5},"y":{"datum":-69.5},"text":{"field":"tekst"}}}
  ]},
  {"width":240,"height":214,"layer":[
   {"data":{"values":[{}]},"mark":{"type":"rule","color":"#000","strokeWidth":1},"encoding":{"y":{"datum":-60,"type":"quantitative"}}},
   {"data":{"name":"reeksen"},"transform":[{"filter":"datum.pnl == 7"}],"mark":{"type":"line","strokeWidth":2.2},
    "encoding":{
     "x":{"field":"dag","type":"quantitative","scale":{"domain":[110,260],"nice":false,"zero":false},"axis":{"values":[110,135,160,185,210,235,260],"tickCount":20,"labelOverlap":false}},
     "y":{"field":"cm","type":"quantitative","scale":{"domain":[-180,-60],"nice":false,"zero":false},"axis":{"values":[-180,-160,-140,-120,-100,-80,-60],"tickCount":20,"labelOverlap":false}},
     "color":{"field":"reeks","type":"nominal","scale":{"domain":["0 cm","20 cm","40 cm","60 cm"],"range":["#00ff00","#00ffff","#0000ff","#ff00ff"]},"legend":null}}},
   {"data":{"name":"teksten"},"transform":[{"filter":"datum.pnl == 7"}],"mark":{"type":"text","align":"left","baseline":"middle","fontSize":14.5,"lineBreak":"\n","lineHeight":20,"color":"#000"},"encoding":{"x":{"datum":117.5},"y":{"datum":-69.5},"text":{"field":"tekst"}}}
  ]},
  {"width":240,"height":214,"layer":[
   {"data":{"values":[{}]},"mark":{"type":"rule","color":"#000","strokeWidth":1},"encoding":{"y":{"datum":-60,"type":"quantitative"}}},
   {"data":{"name":"reeksen"},"transform":[{"filter":"datum.pnl == 8"}],"mark":{"type":"line","strokeWidth":2.2},
    "encoding":{
     "x":{"field":"dag","type":"quantitative","scale":{"domain":[110,260],"nice":false,"zero":false},"axis":{"values":[110,135,160,185,210,235,260],"tickCount":20,"labelOverlap":false}},
     "y":{"field":"cm","type":"quantitative","scale":{"domain":[-180,-60],"nice":false,"zero":false},"axis":{"values":[-180,-160,-140,-120,-100,-80,-60],"tickCount":20,"labelOverlap":false}},
     "color":{"field":"reeks","type":"nominal","scale":{"domain":["0 cm","20 cm","40 cm","60 cm"],"range":["#00ff00","#00ffff","#0000ff","#ff00ff"]},"legend":null}}},
   {"data":{"name":"teksten"},"transform":[{"filter":"datum.pnl == 8"}],"mark":{"type":"text","align":"left","baseline":"middle","fontSize":14.5,"lineBreak":"\n","lineHeight":20,"color":"#000"},"encoding":{"x":{"datum":117.5},"y":{"datum":-69.5},"text":{"field":"tekst"}}}
  ]}
 ]}
]
}
